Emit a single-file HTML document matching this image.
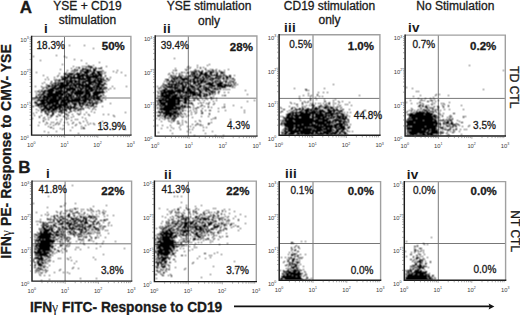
<!DOCTYPE html>
<html><head><meta charset="utf-8"><style>
html,body{margin:0;padding:0;background:#fff}
body{width:520px;height:315px;overflow:hidden;position:relative}
svg{position:absolute;left:0;top:0;font-family:"Liberation Sans",sans-serif}
.tk{font-size:5.8px;fill:#3a3a3a}
text{fill:#1a1a1a;stroke:#1a1a1a;stroke-width:0.3px}
.tk{stroke:none}
.nb{stroke:none}
</style></head><body>
<svg width="520" height="315" viewBox="0 0 520 315">
<defs><filter id="bl" x="-5%" y="-5%" width="110%" height="110%"><feConvolveMatrix order="3" kernelMatrix="1 2 1 2 4 2 1 2 1"/></filter></defs>
<rect width="520" height="315" fill="#fff"/>
<path d="M64.5 36.4V135.1M31.6 98.0H130.9" stroke="#777" stroke-width="1" fill="none"/>
<g filter="url(#bl)"><path fill="#000" d="M69 45h1v1h-1zM84 45h1v1h-1zM107 47h1v1h-1zM93 48h1v1h-1zM56 55h1v1h-1zM33 56h1v1h-1zM64 56h1v1h-1zM66 57h1v1h-1zM74 59h1v1h-1zM40 60h1v1h-1zM81 60h1v1h-1zM99 62h1v1h-1zM86 63h1v1h-1zM62 64h1v1h-1zM88 65h1v1h-1zM93 65h1v1h-1zM73 66h1v1h-1zM82 66h1v1h-1zM84 66h1v1h-1zM86 66h1v1h-1zM88 66h4v1h-4zM106 66h1v1h-1zM76 67h1v1h-1zM78 67h2v1h-2zM86 67h1v1h-1zM88 67h1v1h-1zM90 67h3v1h-3zM95 67h1v1h-1zM101 67h1v1h-1zM71 68h1v1h-1zM79 68h1v1h-1zM82 68h2v1h-2zM85 68h1v1h-1zM90 68h1v1h-1zM93 68h1v1h-1zM95 68h2v1h-2zM98 68h4v1h-4zM60 69h1v1h-1zM74 69h2v1h-2zM77 69h1v1h-1zM82 69h7v1h-7zM90 69h1v1h-1zM93 69h3v1h-3zM67 70h1v1h-1zM72 70h1v1h-1zM74 70h1v1h-1zM76 70h2v1h-2zM80 70h3v1h-3zM86 70h5v1h-5zM93 70h3v1h-3zM102 70h1v1h-1zM117 70h1v1h-1zM71 71h1v1h-1zM73 71h1v1h-1zM75 71h1v1h-1zM80 71h1v1h-1zM82 71h7v1h-7zM90 71h2v1h-2zM93 71h2v1h-2zM96 71h6v1h-6zM103 71h1v1h-1zM113 71h1v1h-1zM36 72h1v1h-1zM66 72h1v1h-1zM74 72h1v1h-1zM77 72h1v1h-1zM80 72h2v1h-2zM84 72h6v1h-6zM92 72h3v1h-3zM97 72h3v1h-3zM101 72h1v1h-1zM105 72h1v1h-1zM116 72h1v1h-1zM121 72h1v1h-1zM59 73h1v1h-1zM64 73h2v1h-2zM68 73h6v1h-6zM76 73h5v1h-5zM82 73h1v1h-1zM84 73h4v1h-4zM91 73h5v1h-5zM97 73h4v1h-4zM102 73h1v1h-1zM104 73h1v1h-1zM64 74h4v1h-4zM69 74h4v1h-4zM74 74h6v1h-6zM81 74h4v1h-4zM86 74h2v1h-2zM89 74h5v1h-5zM95 74h2v1h-2zM98 74h4v1h-4zM43 75h1v1h-1zM58 75h1v1h-1zM67 75h3v1h-3zM71 75h1v1h-1zM73 75h2v1h-2zM77 75h12v1h-12zM90 75h1v1h-1zM92 75h10v1h-10zM105 75h1v1h-1zM125 75h1v1h-1zM57 76h1v1h-1zM61 76h1v1h-1zM63 76h3v1h-3zM67 76h5v1h-5zM73 76h2v1h-2zM77 76h7v1h-7zM85 76h14v1h-14zM100 76h2v1h-2zM105 76h1v1h-1zM47 77h1v1h-1zM54 77h1v1h-1zM61 77h2v1h-2zM64 77h5v1h-5zM70 77h11v1h-11zM82 77h2v1h-2zM86 77h12v1h-12zM99 77h1v1h-1zM101 77h1v1h-1zM103 77h1v1h-1zM110 77h1v1h-1zM62 78h6v1h-6zM69 78h22v1h-22zM93 78h1v1h-1zM95 78h7v1h-7zM103 78h1v1h-1zM106 78h2v1h-2zM45 79h1v1h-1zM48 79h1v1h-1zM54 79h1v1h-1zM56 79h1v1h-1zM59 79h1v1h-1zM61 79h5v1h-5zM67 79h1v1h-1zM70 79h2v1h-2zM74 79h1v1h-1zM78 79h8v1h-8zM87 79h6v1h-6zM94 79h2v1h-2zM97 79h2v1h-2zM100 79h4v1h-4zM107 79h1v1h-1zM109 79h1v1h-1zM55 80h1v1h-1zM57 80h4v1h-4zM62 80h1v1h-1zM64 80h13v1h-13zM78 80h2v1h-2zM81 80h1v1h-1zM83 80h1v1h-1zM85 80h6v1h-6zM93 80h9v1h-9zM103 80h3v1h-3zM108 80h1v1h-1zM51 81h1v1h-1zM55 81h1v1h-1zM59 81h1v1h-1zM64 81h1v1h-1zM66 81h2v1h-2zM69 81h4v1h-4zM74 81h7v1h-7zM82 81h14v1h-14zM97 81h6v1h-6zM106 81h1v1h-1zM44 82h1v1h-1zM51 82h1v1h-1zM55 82h1v1h-1zM57 82h2v1h-2zM60 82h13v1h-13zM74 82h3v1h-3zM78 82h2v1h-2zM81 82h5v1h-5zM88 82h9v1h-9zM98 82h5v1h-5zM104 82h1v1h-1zM42 83h1v1h-1zM50 83h1v1h-1zM53 83h4v1h-4zM58 83h6v1h-6zM66 83h4v1h-4zM71 83h4v1h-4zM76 83h5v1h-5zM82 83h2v1h-2zM85 83h2v1h-2zM88 83h4v1h-4zM93 83h1v1h-1zM95 83h6v1h-6zM104 83h2v1h-2zM46 84h1v1h-1zM51 84h2v1h-2zM55 84h1v1h-1zM57 84h2v1h-2zM60 84h9v1h-9zM70 84h2v1h-2zM73 84h11v1h-11zM85 84h9v1h-9zM95 84h1v1h-1zM97 84h8v1h-8zM106 84h1v1h-1zM47 85h3v1h-3zM52 85h25v1h-25zM78 85h12v1h-12zM92 85h1v1h-1zM94 85h6v1h-6zM101 85h3v1h-3zM35 86h1v1h-1zM41 86h1v1h-1zM46 86h1v1h-1zM48 86h5v1h-5zM54 86h3v1h-3zM59 86h9v1h-9zM69 86h2v1h-2zM72 86h1v1h-1zM74 86h3v1h-3zM78 86h2v1h-2zM81 86h10v1h-10zM93 86h2v1h-2zM96 86h4v1h-4zM101 86h1v1h-1zM103 86h1v1h-1zM112 86h1v1h-1zM126 86h1v1h-1zM42 87h1v1h-1zM44 87h1v1h-1zM46 87h1v1h-1zM48 87h1v1h-1zM52 87h4v1h-4zM57 87h9v1h-9zM67 87h1v1h-1zM69 87h5v1h-5zM75 87h6v1h-6zM82 87h2v1h-2zM85 87h18v1h-18zM104 87h3v1h-3zM43 88h1v1h-1zM46 88h2v1h-2zM50 88h13v1h-13zM64 88h12v1h-12zM77 88h1v1h-1zM79 88h8v1h-8zM88 88h5v1h-5zM94 88h1v1h-1zM96 88h2v1h-2zM99 88h3v1h-3zM103 88h2v1h-2zM106 88h1v1h-1zM110 88h1v1h-1zM114 88h1v1h-1zM42 89h1v1h-1zM48 89h6v1h-6zM55 89h4v1h-4zM60 89h2v1h-2zM63 89h2v1h-2zM66 89h10v1h-10zM77 89h2v1h-2zM80 89h3v1h-3zM85 89h19v1h-19zM105 89h1v1h-1zM108 89h1v1h-1zM39 90h1v1h-1zM41 90h1v1h-1zM44 90h11v1h-11zM56 90h1v1h-1zM58 90h5v1h-5zM64 90h1v1h-1zM66 90h5v1h-5zM72 90h4v1h-4zM77 90h5v1h-5zM83 90h6v1h-6zM90 90h4v1h-4zM95 90h2v1h-2zM99 90h1v1h-1zM102 90h1v1h-1zM35 91h1v1h-1zM37 91h2v1h-2zM41 91h5v1h-5zM47 91h7v1h-7zM55 91h13v1h-13zM69 91h1v1h-1zM71 91h3v1h-3zM75 91h9v1h-9zM85 91h8v1h-8zM94 91h10v1h-10zM106 91h1v1h-1zM39 92h2v1h-2zM43 92h2v1h-2zM46 92h1v1h-1zM48 92h5v1h-5zM55 92h7v1h-7zM63 92h5v1h-5zM70 92h20v1h-20zM93 92h12v1h-12zM36 93h1v1h-1zM42 93h4v1h-4zM47 93h19v1h-19zM67 93h3v1h-3zM71 93h2v1h-2zM74 93h10v1h-10zM85 93h6v1h-6zM92 93h9v1h-9zM102 93h1v1h-1zM38 94h6v1h-6zM46 94h18v1h-18zM65 94h8v1h-8zM74 94h9v1h-9zM84 94h7v1h-7zM93 94h6v1h-6zM103 94h1v1h-1zM36 95h1v1h-1zM38 95h1v1h-1zM41 95h1v1h-1zM43 95h3v1h-3zM47 95h12v1h-12zM60 95h4v1h-4zM65 95h2v1h-2zM68 95h4v1h-4zM73 95h1v1h-1zM76 95h2v1h-2zM79 95h2v1h-2zM83 95h4v1h-4zM88 95h3v1h-3zM92 95h6v1h-6zM100 95h2v1h-2zM103 95h1v1h-1zM36 96h1v1h-1zM39 96h3v1h-3zM43 96h19v1h-19zM64 96h11v1h-11zM76 96h19v1h-19zM96 96h6v1h-6zM105 96h1v1h-1zM35 97h3v1h-3zM39 97h2v1h-2zM42 97h9v1h-9zM52 97h5v1h-5zM58 97h11v1h-11zM70 97h2v1h-2zM73 97h1v1h-1zM76 97h1v1h-1zM78 97h2v1h-2zM81 97h6v1h-6zM88 97h2v1h-2zM91 97h1v1h-1zM93 97h7v1h-7zM103 97h1v1h-1zM32 98h1v1h-1zM34 98h1v1h-1zM38 98h1v1h-1zM40 98h1v1h-1zM43 98h2v1h-2zM46 98h3v1h-3zM50 98h7v1h-7zM58 98h4v1h-4zM63 98h2v1h-2zM66 98h3v1h-3zM70 98h3v1h-3zM74 98h7v1h-7zM82 98h1v1h-1zM84 98h5v1h-5zM90 98h5v1h-5zM96 98h4v1h-4zM32 99h1v1h-1zM34 99h1v1h-1zM36 99h1v1h-1zM38 99h2v1h-2zM41 99h29v1h-29zM71 99h10v1h-10zM82 99h9v1h-9zM93 99h8v1h-8zM102 99h1v1h-1zM105 99h1v1h-1zM37 100h11v1h-11zM49 100h11v1h-11zM61 100h26v1h-26zM88 100h5v1h-5zM94 100h1v1h-1zM98 100h1v1h-1zM100 100h2v1h-2zM35 101h1v1h-1zM37 101h1v1h-1zM40 101h5v1h-5zM46 101h13v1h-13zM60 101h6v1h-6zM67 101h13v1h-13zM81 101h1v1h-1zM83 101h4v1h-4zM89 101h1v1h-1zM92 101h1v1h-1zM95 101h3v1h-3zM101 101h2v1h-2zM34 102h3v1h-3zM41 102h18v1h-18zM60 102h10v1h-10zM71 102h2v1h-2zM74 102h1v1h-1zM76 102h1v1h-1zM78 102h3v1h-3zM82 102h4v1h-4zM87 102h6v1h-6zM94 102h1v1h-1zM96 102h1v1h-1zM98 102h1v1h-1zM100 102h1v1h-1zM35 103h3v1h-3zM39 103h7v1h-7zM47 103h7v1h-7zM55 103h4v1h-4zM60 103h2v1h-2zM63 103h5v1h-5zM69 103h1v1h-1zM72 103h5v1h-5zM78 103h6v1h-6zM85 103h1v1h-1zM87 103h1v1h-1zM89 103h2v1h-2zM92 103h6v1h-6zM110 103h1v1h-1zM37 104h8v1h-8zM46 104h5v1h-5zM52 104h16v1h-16zM69 104h1v1h-1zM71 104h1v1h-1zM73 104h4v1h-4zM79 104h2v1h-2zM82 104h3v1h-3zM86 104h2v1h-2zM90 104h1v1h-1zM92 104h2v1h-2zM96 104h1v1h-1zM35 105h5v1h-5zM41 105h1v1h-1zM43 105h5v1h-5zM49 105h1v1h-1zM51 105h6v1h-6zM58 105h10v1h-10zM70 105h1v1h-1zM74 105h2v1h-2zM77 105h1v1h-1zM79 105h2v1h-2zM82 105h1v1h-1zM85 105h5v1h-5zM91 105h3v1h-3zM32 106h2v1h-2zM38 106h1v1h-1zM40 106h7v1h-7zM48 106h14v1h-14zM63 106h3v1h-3zM67 106h5v1h-5zM73 106h3v1h-3zM80 106h3v1h-3zM90 106h2v1h-2zM93 106h1v1h-1zM95 106h2v1h-2zM102 106h1v1h-1zM39 107h1v1h-1zM41 107h1v1h-1zM44 107h4v1h-4zM49 107h4v1h-4zM54 107h9v1h-9zM64 107h5v1h-5zM70 107h5v1h-5zM76 107h1v1h-1zM78 107h1v1h-1zM81 107h1v1h-1zM85 107h1v1h-1zM87 107h2v1h-2zM94 107h1v1h-1zM40 108h1v1h-1zM43 108h15v1h-15zM59 108h2v1h-2zM62 108h2v1h-2zM65 108h1v1h-1zM67 108h5v1h-5zM73 108h5v1h-5zM80 108h1v1h-1zM82 108h2v1h-2zM89 108h1v1h-1zM93 108h1v1h-1zM36 109h1v1h-1zM41 109h4v1h-4zM46 109h5v1h-5zM52 109h5v1h-5zM58 109h3v1h-3zM62 109h1v1h-1zM64 109h3v1h-3zM69 109h2v1h-2zM75 109h1v1h-1zM78 109h4v1h-4zM83 109h1v1h-1zM92 109h1v1h-1zM95 109h1v1h-1zM38 110h1v1h-1zM41 110h3v1h-3zM45 110h1v1h-1zM47 110h3v1h-3zM51 110h4v1h-4zM56 110h1v1h-1zM60 110h7v1h-7zM70 110h1v1h-1zM73 110h2v1h-2zM77 110h2v1h-2zM41 111h1v1h-1zM44 111h3v1h-3zM48 111h1v1h-1zM50 111h3v1h-3zM54 111h1v1h-1zM56 111h1v1h-1zM58 111h4v1h-4zM66 111h1v1h-1zM70 111h2v1h-2zM75 111h1v1h-1zM80 111h1v1h-1zM91 111h1v1h-1zM36 112h1v1h-1zM41 112h1v1h-1zM45 112h1v1h-1zM48 112h2v1h-2zM52 112h2v1h-2zM55 112h1v1h-1zM59 112h1v1h-1zM61 112h4v1h-4zM68 112h2v1h-2zM86 112h1v1h-1zM94 112h1v1h-1zM125 112h1v1h-1zM33 113h1v1h-1zM45 113h3v1h-3zM52 113h2v1h-2zM61 113h1v1h-1zM65 113h1v1h-1zM77 113h1v1h-1zM80 113h1v1h-1zM47 114h2v1h-2zM52 114h2v1h-2zM58 114h1v1h-1zM65 114h3v1h-3zM72 114h1v1h-1zM78 114h2v1h-2zM84 114h1v1h-1zM88 114h1v1h-1zM103 114h1v1h-1zM108 114h1v1h-1zM34 115h1v1h-1zM41 115h1v1h-1zM47 115h1v1h-1zM50 115h3v1h-3zM59 115h2v1h-2zM68 115h1v1h-1zM89 115h1v1h-1zM113 115h1v1h-1zM39 116h1v1h-1zM51 116h1v1h-1zM56 116h2v1h-2zM63 116h2v1h-2zM67 116h1v1h-1zM73 116h1v1h-1zM114 116h1v1h-1zM39 117h1v1h-1zM44 117h1v1h-1zM48 117h1v1h-1zM50 117h1v1h-1zM65 117h1v1h-1zM71 117h1v1h-1zM82 117h1v1h-1zM32 118h1v1h-1zM43 118h1v1h-1zM66 118h1v1h-1zM68 118h1v1h-1zM85 118h1v1h-1zM45 119h1v1h-1zM48 119h1v1h-1zM56 119h1v1h-1zM61 119h1v1h-1zM66 119h1v1h-1zM75 119h1v1h-1zM77 119h1v1h-1zM43 120h1v1h-1zM71 120h1v1h-1zM86 120h1v1h-1zM43 121h1v1h-1zM60 121h1v1h-1zM83 121h1v1h-1zM102 121h1v1h-1zM39 122h1v1h-1zM46 122h1v1h-1zM51 122h1v1h-1zM53 122h1v1h-1zM57 122h1v1h-1zM64 122h1v1h-1zM67 122h1v1h-1zM73 122h1v1h-1zM79 122h1v1h-1zM87 122h1v1h-1zM47 123h1v1h-1zM56 123h1v1h-1zM59 123h1v1h-1zM72 123h1v1h-1zM80 123h1v1h-1zM90 123h1v1h-1zM93 123h1v1h-1zM45 124h1v1h-1zM50 124h1v1h-1zM55 124h1v1h-1zM58 124h1v1h-1zM68 124h1v1h-1zM76 124h1v1h-1zM88 124h1v1h-1zM94 124h1v1h-1zM38 125h1v1h-1zM53 125h1v1h-1zM63 125h1v1h-1zM75 125h1v1h-1zM85 125h1v1h-1zM99 125h1v1h-1zM103 125h1v1h-1zM48 126h1v1h-1zM81 126h1v1h-1zM50 127h2v1h-2zM72 127h1v1h-1zM83 127h1v1h-1zM53 128h1v1h-1zM60 128h1v1h-1zM63 128h1v1h-1zM81 128h1v1h-1zM83 128h2v1h-2zM62 129h1v1h-1zM112 129h1v1h-1zM125 129h1v1h-1zM70 130h1v1h-1zM44 131h1v1h-1zM56 131h1v1h-1zM48 132h1v1h-1zM78 133h1v1h-1z"/></g>
<path d="M31.6 36.4H130.9V135.1" stroke="#a0a0a0" stroke-width="1.4" fill="none"/>
<path d="M31.6 35.699999999999996V135.1H131.6" stroke="#1a1a1a" stroke-width="1.45" fill="none"/>
<path d="M41.6 135.6v1.6M31.1 125.2h-1.6M47.4 135.6v1.6M31.1 119.4h-1.6M51.5 135.6v1.6M31.1 115.3h-1.6M54.7 135.6v1.6M31.1 112.1h-1.6M57.4 135.6v1.6M31.1 109.5h-1.6M59.6 135.6v1.6M31.1 107.3h-1.6M61.5 135.6v1.6M31.1 105.4h-1.6M63.2 135.6v1.6M31.1 103.7h-1.6M64.7 135.6v2.2M31.1 102.2h-2.2M74.7 135.6v1.6M31.1 92.3h-1.6M80.5 135.6v1.6M31.1 86.5h-1.6M84.6 135.6v1.6M31.1 82.4h-1.6M87.8 135.6v1.6M31.1 79.2h-1.6M90.5 135.6v1.6M31.1 76.6h-1.6M92.7 135.6v1.6M31.1 74.4h-1.6M94.6 135.6v1.6M31.1 72.5h-1.6M96.3 135.6v1.6M31.1 70.8h-1.6M97.8 135.6v2.2M31.1 69.3h-2.2M107.8 135.6v1.6M31.1 59.4h-1.6M113.6 135.6v1.6M31.1 53.6h-1.6M117.7 135.6v1.6M31.1 49.5h-1.6M120.9 135.6v1.6M31.1 46.3h-1.6M123.6 135.6v1.6M31.1 43.7h-1.6M125.8 135.6v1.6M31.1 41.5h-1.6M127.7 135.6v1.6M31.1 39.6h-1.6M129.4 135.6v1.6M31.1 37.9h-1.6" stroke="#555" stroke-width="0.5" fill="none"/>
<text x="20.3" y="41.699999999999996" class="tk">10<tspan dy="-2.6" font-size="3.6">3</tspan></text>
<text x="20.3" y="74.6" class="tk">10<tspan dy="-2.6" font-size="3.6">2</tspan></text>
<text x="20.3" y="107.49999999999999" class="tk">10<tspan dy="-2.6" font-size="3.6">1</tspan></text>
<text x="20.3" y="140.4" class="tk">10<tspan dy="-2.6" font-size="3.6">0</tspan></text>
<text x="27.1" y="146.9" class="tk">10<tspan dy="-2.6" font-size="3.6">0</tspan></text>
<text x="60.2" y="146.9" class="tk">10<tspan dy="-2.6" font-size="3.6">1</tspan></text>
<text x="93.30000000000001" y="146.9" class="tk">10<tspan dy="-2.6" font-size="3.6">2</tspan></text>
<text x="126.4" y="146.9" class="tk">10<tspan dy="-2.6" font-size="3.6">3</tspan></text>
<path d="M188.3 36.0V136.1M155.2 98.2H256.9" stroke="#777" stroke-width="1" fill="none"/>
<g filter="url(#bl)"><path fill="#000" d="M174 58h1v1h-1zM209 64h1v1h-1zM197 65h1v1h-1zM207 65h1v1h-1zM188 66h1v1h-1zM187 67h1v1h-1zM190 67h1v1h-1zM197 67h1v1h-1zM200 67h1v1h-1zM203 67h1v1h-1zM175 68h1v1h-1zM189 68h1v1h-1zM200 68h1v1h-1zM205 68h1v1h-1zM185 69h1v1h-1zM187 69h1v1h-1zM195 69h1v1h-1zM205 69h1v1h-1zM210 69h1v1h-1zM212 69h1v1h-1zM216 69h1v1h-1zM228 69h1v1h-1zM173 70h1v1h-1zM175 70h2v1h-2zM186 70h1v1h-1zM194 70h1v1h-1zM196 70h1v1h-1zM198 70h1v1h-1zM202 70h1v1h-1zM206 70h1v1h-1zM208 70h1v1h-1zM212 70h2v1h-2zM215 70h1v1h-1zM219 70h1v1h-1zM224 70h1v1h-1zM190 71h1v1h-1zM192 71h1v1h-1zM194 71h3v1h-3zM198 71h2v1h-2zM201 71h2v1h-2zM208 71h4v1h-4zM213 71h1v1h-1zM216 71h1v1h-1zM219 71h1v1h-1zM221 71h1v1h-1zM172 72h1v1h-1zM181 72h2v1h-2zM184 72h1v1h-1zM187 72h2v1h-2zM191 72h4v1h-4zM196 72h1v1h-1zM199 72h4v1h-4zM205 72h3v1h-3zM210 72h4v1h-4zM215 72h1v1h-1zM217 72h1v1h-1zM220 72h5v1h-5zM169 73h1v1h-1zM173 73h1v1h-1zM176 73h1v1h-1zM179 73h1v1h-1zM186 73h1v1h-1zM188 73h1v1h-1zM191 73h1v1h-1zM193 73h3v1h-3zM197 73h1v1h-1zM200 73h3v1h-3zM204 73h3v1h-3zM209 73h3v1h-3zM216 73h2v1h-2zM221 73h2v1h-2zM168 74h1v1h-1zM179 74h1v1h-1zM181 74h1v1h-1zM191 74h4v1h-4zM196 74h2v1h-2zM199 74h9v1h-9zM210 74h2v1h-2zM214 74h1v1h-1zM216 74h2v1h-2zM220 74h1v1h-1zM223 74h2v1h-2zM170 75h2v1h-2zM173 75h1v1h-1zM175 75h1v1h-1zM179 75h1v1h-1zM182 75h1v1h-1zM186 75h1v1h-1zM189 75h2v1h-2zM192 75h1v1h-1zM194 75h2v1h-2zM197 75h1v1h-1zM199 75h2v1h-2zM204 75h6v1h-6zM211 75h7v1h-7zM219 75h1v1h-1zM221 75h1v1h-1zM223 75h1v1h-1zM225 75h1v1h-1zM229 75h2v1h-2zM234 75h1v1h-1zM171 76h1v1h-1zM173 76h1v1h-1zM175 76h1v1h-1zM178 76h4v1h-4zM183 76h1v1h-1zM185 76h1v1h-1zM187 76h4v1h-4zM192 76h5v1h-5zM198 76h3v1h-3zM202 76h2v1h-2zM205 76h2v1h-2zM208 76h3v1h-3zM216 76h6v1h-6zM223 76h1v1h-1zM225 76h3v1h-3zM229 76h2v1h-2zM169 77h1v1h-1zM171 77h2v1h-2zM174 77h5v1h-5zM180 77h2v1h-2zM185 77h1v1h-1zM187 77h1v1h-1zM191 77h1v1h-1zM194 77h5v1h-5zM202 77h2v1h-2zM205 77h4v1h-4zM210 77h1v1h-1zM212 77h1v1h-1zM215 77h2v1h-2zM218 77h1v1h-1zM220 77h1v1h-1zM223 77h1v1h-1zM226 77h3v1h-3zM230 77h1v1h-1zM172 78h3v1h-3zM176 78h2v1h-2zM179 78h11v1h-11zM193 78h9v1h-9zM203 78h2v1h-2zM206 78h1v1h-1zM208 78h1v1h-1zM210 78h11v1h-11zM222 78h3v1h-3zM226 78h2v1h-2zM230 78h1v1h-1zM232 78h2v1h-2zM165 79h4v1h-4zM171 79h1v1h-1zM173 79h4v1h-4zM178 79h1v1h-1zM181 79h7v1h-7zM190 79h5v1h-5zM197 79h1v1h-1zM200 79h1v1h-1zM202 79h3v1h-3zM206 79h2v1h-2zM209 79h2v1h-2zM212 79h2v1h-2zM218 79h1v1h-1zM223 79h1v1h-1zM226 79h1v1h-1zM228 79h1v1h-1zM232 79h1v1h-1zM234 79h1v1h-1zM167 80h2v1h-2zM171 80h2v1h-2zM174 80h1v1h-1zM177 80h1v1h-1zM179 80h2v1h-2zM182 80h3v1h-3zM187 80h4v1h-4zM193 80h2v1h-2zM196 80h8v1h-8zM205 80h1v1h-1zM208 80h1v1h-1zM210 80h3v1h-3zM215 80h3v1h-3zM219 80h2v1h-2zM224 80h1v1h-1zM226 80h1v1h-1zM230 80h1v1h-1zM234 80h1v1h-1zM164 81h1v1h-1zM166 81h1v1h-1zM169 81h8v1h-8zM178 81h2v1h-2zM181 81h1v1h-1zM183 81h1v1h-1zM185 81h1v1h-1zM187 81h1v1h-1zM189 81h7v1h-7zM197 81h2v1h-2zM200 81h8v1h-8zM212 81h1v1h-1zM214 81h2v1h-2zM217 81h2v1h-2zM220 81h1v1h-1zM223 81h1v1h-1zM225 81h2v1h-2zM229 81h1v1h-1zM231 81h3v1h-3zM167 82h1v1h-1zM169 82h1v1h-1zM172 82h2v1h-2zM176 82h1v1h-1zM178 82h2v1h-2zM181 82h8v1h-8zM190 82h1v1h-1zM193 82h6v1h-6zM200 82h3v1h-3zM204 82h2v1h-2zM208 82h3v1h-3zM212 82h2v1h-2zM215 82h2v1h-2zM219 82h4v1h-4zM225 82h2v1h-2zM228 82h1v1h-1zM230 82h1v1h-1zM233 82h1v1h-1zM235 82h1v1h-1zM163 83h1v1h-1zM168 83h2v1h-2zM171 83h1v1h-1zM173 83h1v1h-1zM175 83h8v1h-8zM185 83h1v1h-1zM187 83h2v1h-2zM190 83h1v1h-1zM193 83h3v1h-3zM198 83h4v1h-4zM203 83h1v1h-1zM206 83h8v1h-8zM215 83h1v1h-1zM217 83h6v1h-6zM228 83h1v1h-1zM230 83h1v1h-1zM233 83h1v1h-1zM235 83h1v1h-1zM163 84h1v1h-1zM165 84h1v1h-1zM167 84h10v1h-10zM178 84h1v1h-1zM180 84h4v1h-4zM185 84h2v1h-2zM188 84h3v1h-3zM193 84h1v1h-1zM195 84h1v1h-1zM197 84h3v1h-3zM205 84h8v1h-8zM216 84h6v1h-6zM223 84h4v1h-4zM228 84h1v1h-1zM231 84h1v1h-1zM234 84h1v1h-1zM237 84h1v1h-1zM162 85h1v1h-1zM164 85h3v1h-3zM169 85h1v1h-1zM171 85h2v1h-2zM174 85h6v1h-6zM182 85h2v1h-2zM185 85h2v1h-2zM190 85h3v1h-3zM195 85h3v1h-3zM199 85h3v1h-3zM203 85h2v1h-2zM209 85h7v1h-7zM217 85h6v1h-6zM224 85h8v1h-8zM233 85h1v1h-1zM235 85h1v1h-1zM157 86h1v1h-1zM161 86h1v1h-1zM163 86h1v1h-1zM166 86h7v1h-7zM174 86h2v1h-2zM177 86h1v1h-1zM179 86h1v1h-1zM181 86h5v1h-5zM188 86h7v1h-7zM197 86h1v1h-1zM199 86h3v1h-3zM203 86h1v1h-1zM205 86h1v1h-1zM207 86h1v1h-1zM209 86h1v1h-1zM211 86h4v1h-4zM217 86h9v1h-9zM227 86h1v1h-1zM229 86h2v1h-2zM232 86h1v1h-1zM160 87h1v1h-1zM163 87h3v1h-3zM167 87h12v1h-12zM180 87h1v1h-1zM182 87h7v1h-7zM191 87h4v1h-4zM196 87h1v1h-1zM198 87h3v1h-3zM203 87h4v1h-4zM208 87h4v1h-4zM215 87h1v1h-1zM217 87h1v1h-1zM219 87h1v1h-1zM221 87h5v1h-5zM232 87h1v1h-1zM234 87h1v1h-1zM158 88h2v1h-2zM161 88h1v1h-1zM165 88h2v1h-2zM170 88h1v1h-1zM172 88h1v1h-1zM174 88h4v1h-4zM179 88h1v1h-1zM181 88h4v1h-4zM187 88h4v1h-4zM192 88h1v1h-1zM194 88h2v1h-2zM197 88h2v1h-2zM201 88h1v1h-1zM203 88h1v1h-1zM205 88h4v1h-4zM211 88h5v1h-5zM217 88h1v1h-1zM219 88h2v1h-2zM163 89h5v1h-5zM169 89h1v1h-1zM171 89h2v1h-2zM174 89h2v1h-2zM177 89h4v1h-4zM182 89h3v1h-3zM186 89h5v1h-5zM192 89h3v1h-3zM196 89h4v1h-4zM201 89h1v1h-1zM203 89h7v1h-7zM214 89h5v1h-5zM220 89h1v1h-1zM223 89h1v1h-1zM225 89h1v1h-1zM227 89h1v1h-1zM229 89h1v1h-1zM159 90h1v1h-1zM161 90h5v1h-5zM167 90h7v1h-7zM175 90h10v1h-10zM187 90h5v1h-5zM194 90h2v1h-2zM198 90h3v1h-3zM202 90h1v1h-1zM205 90h2v1h-2zM208 90h3v1h-3zM212 90h2v1h-2zM245 90h1v1h-1zM157 91h1v1h-1zM160 91h2v1h-2zM163 91h21v1h-21zM185 91h10v1h-10zM199 91h3v1h-3zM203 91h1v1h-1zM205 91h3v1h-3zM210 91h3v1h-3zM214 91h2v1h-2zM218 91h2v1h-2zM158 92h1v1h-1zM161 92h15v1h-15zM177 92h4v1h-4zM182 92h6v1h-6zM189 92h9v1h-9zM199 92h3v1h-3zM208 92h2v1h-2zM211 92h4v1h-4zM218 92h1v1h-1zM224 92h1v1h-1zM228 92h1v1h-1zM158 93h1v1h-1zM160 93h7v1h-7zM168 93h7v1h-7zM177 93h1v1h-1zM179 93h2v1h-2zM183 93h1v1h-1zM185 93h11v1h-11zM197 93h1v1h-1zM199 93h2v1h-2zM202 93h3v1h-3zM206 93h1v1h-1zM209 93h2v1h-2zM212 93h1v1h-1zM215 93h1v1h-1zM218 93h1v1h-1zM161 94h3v1h-3zM165 94h8v1h-8zM174 94h4v1h-4zM179 94h1v1h-1zM181 94h2v1h-2zM185 94h1v1h-1zM187 94h1v1h-1zM190 94h1v1h-1zM192 94h9v1h-9zM204 94h4v1h-4zM209 94h2v1h-2zM212 94h1v1h-1zM214 94h1v1h-1zM247 94h1v1h-1zM157 95h1v1h-1zM160 95h11v1h-11zM172 95h6v1h-6zM179 95h3v1h-3zM183 95h5v1h-5zM189 95h2v1h-2zM192 95h4v1h-4zM197 95h5v1h-5zM203 95h2v1h-2zM206 95h2v1h-2zM209 95h1v1h-1zM222 95h1v1h-1zM224 95h2v1h-2zM158 96h2v1h-2zM161 96h16v1h-16zM178 96h1v1h-1zM180 96h4v1h-4zM185 96h1v1h-1zM187 96h4v1h-4zM192 96h1v1h-1zM196 96h1v1h-1zM199 96h2v1h-2zM203 96h4v1h-4zM213 96h1v1h-1zM157 97h1v1h-1zM160 97h2v1h-2zM163 97h7v1h-7zM171 97h12v1h-12zM184 97h6v1h-6zM192 97h1v1h-1zM194 97h1v1h-1zM196 97h1v1h-1zM200 97h2v1h-2zM210 97h2v1h-2zM162 98h2v1h-2zM165 98h15v1h-15zM181 98h2v1h-2zM184 98h3v1h-3zM188 98h1v1h-1zM193 98h1v1h-1zM195 98h1v1h-1zM197 98h1v1h-1zM205 98h2v1h-2zM211 98h1v1h-1zM213 98h1v1h-1zM216 98h1v1h-1zM158 99h9v1h-9zM168 99h12v1h-12zM183 99h6v1h-6zM194 99h1v1h-1zM197 99h2v1h-2zM202 99h1v1h-1zM207 99h1v1h-1zM211 99h1v1h-1zM156 100h1v1h-1zM158 100h18v1h-18zM177 100h6v1h-6zM184 100h3v1h-3zM188 100h2v1h-2zM191 100h1v1h-1zM193 100h2v1h-2zM199 100h1v1h-1zM204 100h1v1h-1zM216 100h1v1h-1zM254 100h1v1h-1zM157 101h1v1h-1zM159 101h3v1h-3zM163 101h1v1h-1zM165 101h16v1h-16zM182 101h1v1h-1zM184 101h3v1h-3zM189 101h1v1h-1zM213 101h1v1h-1zM247 101h1v1h-1zM157 102h1v1h-1zM159 102h17v1h-17zM177 102h3v1h-3zM183 102h4v1h-4zM188 102h1v1h-1zM191 102h1v1h-1zM200 102h1v1h-1zM203 102h1v1h-1zM209 102h1v1h-1zM158 103h1v1h-1zM160 103h6v1h-6zM167 103h13v1h-13zM181 103h1v1h-1zM184 103h3v1h-3zM188 103h5v1h-5zM198 103h1v1h-1zM201 103h1v1h-1zM206 103h1v1h-1zM208 103h1v1h-1zM214 103h1v1h-1zM157 104h2v1h-2zM160 104h6v1h-6zM167 104h13v1h-13zM182 104h1v1h-1zM187 104h1v1h-1zM192 104h1v1h-1zM208 104h1v1h-1zM213 104h1v1h-1zM224 104h1v1h-1zM156 105h1v1h-1zM159 105h2v1h-2zM162 105h14v1h-14zM177 105h1v1h-1zM179 105h1v1h-1zM181 105h2v1h-2zM184 105h2v1h-2zM193 105h1v1h-1zM201 105h2v1h-2zM233 105h1v1h-1zM160 106h3v1h-3zM164 106h13v1h-13zM178 106h1v1h-1zM180 106h6v1h-6zM187 106h3v1h-3zM200 106h1v1h-1zM204 106h1v1h-1zM208 106h1v1h-1zM224 106h1v1h-1zM157 107h1v1h-1zM159 107h1v1h-1zM161 107h1v1h-1zM163 107h11v1h-11zM175 107h6v1h-6zM182 107h1v1h-1zM184 107h2v1h-2zM187 107h1v1h-1zM189 107h2v1h-2zM193 107h1v1h-1zM197 107h2v1h-2zM208 107h1v1h-1zM211 107h1v1h-1zM222 107h1v1h-1zM224 107h1v1h-1zM241 107h1v1h-1zM157 108h1v1h-1zM160 108h21v1h-21zM182 108h2v1h-2zM195 108h2v1h-2zM202 108h1v1h-1zM218 108h1v1h-1zM159 109h18v1h-18zM178 109h2v1h-2zM181 109h1v1h-1zM193 109h1v1h-1zM161 110h1v1h-1zM163 110h9v1h-9zM173 110h1v1h-1zM175 110h1v1h-1zM177 110h1v1h-1zM179 110h1v1h-1zM182 110h2v1h-2zM185 110h1v1h-1zM190 110h1v1h-1zM196 110h1v1h-1zM201 110h1v1h-1zM205 110h1v1h-1zM209 110h2v1h-2zM225 110h1v1h-1zM244 110h1v1h-1zM158 111h2v1h-2zM161 111h2v1h-2zM165 111h5v1h-5zM171 111h7v1h-7zM180 111h1v1h-1zM182 111h1v1h-1zM188 111h1v1h-1zM194 111h1v1h-1zM201 111h1v1h-1zM218 111h1v1h-1zM156 112h1v1h-1zM158 112h14v1h-14zM173 112h4v1h-4zM178 112h1v1h-1zM180 112h1v1h-1zM191 112h1v1h-1zM196 112h1v1h-1zM202 112h1v1h-1zM244 112h1v1h-1zM160 113h1v1h-1zM163 113h16v1h-16zM180 113h2v1h-2zM184 113h1v1h-1zM195 113h1v1h-1zM201 113h2v1h-2zM209 113h1v1h-1zM160 114h1v1h-1zM163 114h1v1h-1zM165 114h9v1h-9zM175 114h1v1h-1zM177 114h3v1h-3zM182 114h1v1h-1zM185 114h1v1h-1zM191 114h1v1h-1zM209 114h1v1h-1zM157 115h4v1h-4zM162 115h1v1h-1zM164 115h4v1h-4zM169 115h3v1h-3zM173 115h3v1h-3zM177 115h1v1h-1zM180 115h1v1h-1zM188 115h1v1h-1zM158 116h1v1h-1zM162 116h1v1h-1zM164 116h2v1h-2zM168 116h4v1h-4zM173 116h3v1h-3zM177 116h2v1h-2zM181 116h1v1h-1zM183 116h1v1h-1zM186 116h1v1h-1zM201 116h1v1h-1zM208 116h1v1h-1zM160 117h1v1h-1zM164 117h2v1h-2zM167 117h1v1h-1zM170 117h1v1h-1zM173 117h1v1h-1zM175 117h2v1h-2zM182 117h1v1h-1zM192 117h1v1h-1zM215 117h1v1h-1zM156 118h1v1h-1zM162 118h1v1h-1zM165 118h1v1h-1zM167 118h3v1h-3zM171 118h5v1h-5zM213 118h1v1h-1zM215 118h1v1h-1zM159 119h1v1h-1zM164 119h1v1h-1zM172 119h1v1h-1zM174 119h1v1h-1zM211 119h1v1h-1zM230 119h1v1h-1zM168 120h1v1h-1zM171 120h1v1h-1zM173 120h2v1h-2zM182 120h1v1h-1zM199 120h1v1h-1zM161 121h1v1h-1zM169 121h1v1h-1zM173 121h1v1h-1zM177 121h2v1h-2zM185 121h1v1h-1zM195 121h1v1h-1zM200 121h1v1h-1zM171 122h1v1h-1zM182 122h1v1h-1zM186 122h1v1h-1zM211 122h1v1h-1zM177 123h3v1h-3zM197 123h1v1h-1zM208 123h2v1h-2zM182 124h1v1h-1zM192 124h1v1h-1zM196 124h1v1h-1zM198 124h1v1h-1zM200 124h1v1h-1zM208 124h1v1h-1zM157 125h1v1h-1zM162 125h1v1h-1zM170 125h1v1h-1zM180 125h1v1h-1zM195 125h1v1h-1zM200 125h1v1h-1zM202 125h1v1h-1zM187 126h1v1h-1zM190 126h1v1h-1zM167 127h1v1h-1zM171 127h1v1h-1zM179 127h1v1h-1zM193 127h1v1h-1zM203 127h1v1h-1zM206 127h1v1h-1zM161 128h1v1h-1zM173 128h1v1h-1zM180 129h1v1h-1zM189 129h1v1h-1zM192 129h1v1h-1zM170 130h1v1h-1zM203 130h1v1h-1zM187 131h1v1h-1zM212 131h1v1h-1zM158 132h1v1h-1zM190 132h1v1h-1zM172 133h1v1h-1zM205 133h1v1h-1zM194 135h1v1h-1zM215 135h1v1h-1zM223 135h1v1h-1z"/></g>
<path d="M155.2 36.0H256.9V136.1" stroke="#a0a0a0" stroke-width="1.4" fill="none"/>
<path d="M155.2 35.3V136.1H257.59999999999997" stroke="#1a1a1a" stroke-width="1.45" fill="none"/>
<path d="M165.4 136.6v1.6M154.7 126.1h-1.6M171.4 136.6v1.6M154.7 120.2h-1.6M175.6 136.6v1.6M154.7 116.0h-1.6M178.9 136.6v1.6M154.7 112.8h-1.6M181.6 136.6v1.6M154.7 110.1h-1.6M183.8 136.6v1.6M154.7 107.9h-1.6M185.8 136.6v1.6M154.7 106.0h-1.6M187.5 136.6v1.6M154.7 104.3h-1.6M189.1 136.6v2.2M154.7 102.7h-2.2M199.3 136.6v1.6M154.7 92.7h-1.6M205.3 136.6v1.6M154.7 86.8h-1.6M209.5 136.6v1.6M154.7 82.6h-1.6M212.8 136.6v1.6M154.7 79.4h-1.6M215.5 136.6v1.6M154.7 76.8h-1.6M217.7 136.6v1.6M154.7 74.5h-1.6M219.7 136.6v1.6M154.7 72.6h-1.6M221.4 136.6v1.6M154.7 70.9h-1.6M223.0 136.6v2.2M154.7 69.4h-2.2M233.2 136.6v1.6M154.7 59.3h-1.6M239.2 136.6v1.6M154.7 53.4h-1.6M243.4 136.6v1.6M154.7 49.3h-1.6M246.7 136.6v1.6M154.7 46.0h-1.6M249.4 136.6v1.6M154.7 43.4h-1.6M251.6 136.6v1.6M154.7 41.2h-1.6M253.6 136.6v1.6M154.7 39.2h-1.6M255.3 136.6v1.6M154.7 37.5h-1.6" stroke="#555" stroke-width="0.5" fill="none"/>
<text x="143.89999999999998" y="41.3" class="tk">10<tspan dy="-2.6" font-size="3.6">3</tspan></text>
<text x="143.89999999999998" y="74.66666666666667" class="tk">10<tspan dy="-2.6" font-size="3.6">2</tspan></text>
<text x="143.89999999999998" y="108.03333333333333" class="tk">10<tspan dy="-2.6" font-size="3.6">1</tspan></text>
<text x="143.89999999999998" y="141.4" class="tk">10<tspan dy="-2.6" font-size="3.6">0</tspan></text>
<text x="150.7" y="147.9" class="tk">10<tspan dy="-2.6" font-size="3.6">0</tspan></text>
<text x="184.6" y="147.9" class="tk">10<tspan dy="-2.6" font-size="3.6">1</tspan></text>
<text x="218.5" y="147.9" class="tk">10<tspan dy="-2.6" font-size="3.6">2</tspan></text>
<text x="252.39999999999998" y="147.9" class="tk">10<tspan dy="-2.6" font-size="3.6">3</tspan></text>
<path d="M313.0 34.7V135.3M279.1 98.4H379.9" stroke="#777" stroke-width="1" fill="none"/>
<g filter="url(#bl)"><path fill="#000" d="M333 84h1v1h-1zM294 88h1v1h-1zM324 88h1v1h-1zM305 89h2v1h-2zM306 90h1v1h-1zM308 90h1v1h-1zM318 92h1v1h-1zM323 92h1v1h-1zM327 92h1v1h-1zM308 93h1v1h-1zM317 94h1v1h-1zM303 95h1v1h-1zM308 95h1v1h-1zM311 95h1v1h-1zM317 95h1v1h-1zM359 95h1v1h-1zM299 96h1v1h-1zM310 96h1v1h-1zM319 96h1v1h-1zM322 96h1v1h-1zM315 97h1v1h-1zM299 98h1v1h-1zM310 98h1v1h-1zM310 99h1v1h-1zM316 99h1v1h-1zM324 99h1v1h-1zM335 99h1v1h-1zM300 100h1v1h-1zM310 100h1v1h-1zM333 100h1v1h-1zM304 101h1v1h-1zM308 101h1v1h-1zM324 101h2v1h-2zM338 101h1v1h-1zM342 101h1v1h-1zM290 102h1v1h-1zM302 102h1v1h-1zM305 102h1v1h-1zM307 102h1v1h-1zM329 102h1v1h-1zM333 102h1v1h-1zM339 102h1v1h-1zM349 102h1v1h-1zM291 103h1v1h-1zM294 103h1v1h-1zM302 103h1v1h-1zM310 103h1v1h-1zM312 103h1v1h-1zM315 103h1v1h-1zM318 103h1v1h-1zM320 103h1v1h-1zM323 103h1v1h-1zM326 103h1v1h-1zM328 103h2v1h-2zM335 103h1v1h-1zM296 104h2v1h-2zM302 104h1v1h-1zM312 104h1v1h-1zM325 104h1v1h-1zM329 104h1v1h-1zM333 104h1v1h-1zM338 104h1v1h-1zM345 104h1v1h-1zM347 104h1v1h-1zM306 105h1v1h-1zM309 105h1v1h-1zM311 105h4v1h-4zM320 105h2v1h-2zM324 105h1v1h-1zM326 105h2v1h-2zM340 105h1v1h-1zM351 105h1v1h-1zM289 106h1v1h-1zM297 106h1v1h-1zM302 106h1v1h-1zM304 106h1v1h-1zM313 106h1v1h-1zM318 106h3v1h-3zM322 106h1v1h-1zM325 106h2v1h-2zM328 106h1v1h-1zM330 106h1v1h-1zM333 106h1v1h-1zM337 106h1v1h-1zM339 106h1v1h-1zM280 107h1v1h-1zM292 107h1v1h-1zM294 107h1v1h-1zM302 107h1v1h-1zM305 107h1v1h-1zM312 107h2v1h-2zM315 107h2v1h-2zM319 107h1v1h-1zM321 107h1v1h-1zM323 107h6v1h-6zM330 107h3v1h-3zM335 107h1v1h-1zM337 107h1v1h-1zM341 107h1v1h-1zM281 108h1v1h-1zM291 108h2v1h-2zM295 108h1v1h-1zM299 108h2v1h-2zM302 108h2v1h-2zM307 108h2v1h-2zM312 108h1v1h-1zM314 108h6v1h-6zM324 108h3v1h-3zM328 108h1v1h-1zM330 108h4v1h-4zM336 108h1v1h-1zM340 108h1v1h-1zM283 109h2v1h-2zM291 109h1v1h-1zM295 109h6v1h-6zM302 109h2v1h-2zM305 109h8v1h-8zM314 109h4v1h-4zM320 109h1v1h-1zM322 109h1v1h-1zM327 109h3v1h-3zM333 109h2v1h-2zM336 109h2v1h-2zM342 109h2v1h-2zM349 109h1v1h-1zM289 110h1v1h-1zM293 110h2v1h-2zM296 110h1v1h-1zM301 110h2v1h-2zM304 110h5v1h-5zM310 110h2v1h-2zM313 110h2v1h-2zM316 110h1v1h-1zM318 110h6v1h-6zM325 110h1v1h-1zM327 110h12v1h-12zM340 110h2v1h-2zM364 110h2v1h-2zM281 111h2v1h-2zM287 111h1v1h-1zM291 111h2v1h-2zM296 111h1v1h-1zM299 111h3v1h-3zM303 111h1v1h-1zM305 111h5v1h-5zM311 111h7v1h-7zM319 111h6v1h-6zM328 111h4v1h-4zM333 111h2v1h-2zM338 111h5v1h-5zM280 112h1v1h-1zM290 112h1v1h-1zM292 112h12v1h-12zM305 112h3v1h-3zM309 112h7v1h-7zM317 112h5v1h-5zM323 112h9v1h-9zM333 112h2v1h-2zM336 112h2v1h-2zM339 112h1v1h-1zM344 112h1v1h-1zM347 112h1v1h-1zM350 112h1v1h-1zM288 113h6v1h-6zM295 113h2v1h-2zM298 113h1v1h-1zM300 113h18v1h-18zM319 113h4v1h-4zM325 113h9v1h-9zM335 113h8v1h-8zM357 113h1v1h-1zM359 113h1v1h-1zM286 114h5v1h-5zM292 114h2v1h-2zM295 114h3v1h-3zM299 114h12v1h-12zM312 114h2v1h-2zM315 114h12v1h-12zM328 114h1v1h-1zM330 114h6v1h-6zM337 114h1v1h-1zM341 114h4v1h-4zM346 114h1v1h-1zM287 115h24v1h-24zM312 115h2v1h-2zM315 115h9v1h-9zM325 115h8v1h-8zM336 115h3v1h-3zM340 115h1v1h-1zM342 115h2v1h-2zM347 115h1v1h-1zM280 116h1v1h-1zM282 116h1v1h-1zM286 116h4v1h-4zM291 116h2v1h-2zM294 116h16v1h-16zM311 116h3v1h-3zM315 116h12v1h-12zM328 116h2v1h-2zM331 116h5v1h-5zM337 116h10v1h-10zM349 116h1v1h-1zM283 117h2v1h-2zM286 117h8v1h-8zM295 117h4v1h-4zM301 117h9v1h-9zM312 117h9v1h-9zM322 117h5v1h-5zM328 117h1v1h-1zM330 117h2v1h-2zM333 117h2v1h-2zM336 117h5v1h-5zM342 117h2v1h-2zM345 117h2v1h-2zM364 117h1v1h-1zM284 118h30v1h-30zM315 118h1v1h-1zM317 118h8v1h-8zM326 118h8v1h-8zM336 118h1v1h-1zM338 118h9v1h-9zM283 119h1v1h-1zM285 119h2v1h-2zM288 119h26v1h-26zM315 119h14v1h-14zM334 119h5v1h-5zM340 119h1v1h-1zM342 119h4v1h-4zM347 119h2v1h-2zM280 120h1v1h-1zM282 120h1v1h-1zM284 120h9v1h-9zM294 120h25v1h-25zM320 120h1v1h-1zM322 120h6v1h-6zM329 120h2v1h-2zM332 120h10v1h-10zM344 120h1v1h-1zM348 120h1v1h-1zM282 121h2v1h-2zM285 121h9v1h-9zM295 121h36v1h-36zM332 121h2v1h-2zM335 121h2v1h-2zM338 121h9v1h-9zM348 121h1v1h-1zM281 122h1v1h-1zM284 122h1v1h-1zM286 122h27v1h-27zM314 122h11v1h-11zM326 122h7v1h-7zM334 122h2v1h-2zM339 122h2v1h-2zM343 122h2v1h-2zM346 122h1v1h-1zM348 122h1v1h-1zM281 123h32v1h-32zM315 123h16v1h-16zM332 123h2v1h-2zM336 123h9v1h-9zM346 123h1v1h-1zM280 124h2v1h-2zM284 124h18v1h-18zM303 124h7v1h-7zM311 124h5v1h-5zM317 124h10v1h-10zM328 124h2v1h-2zM331 124h1v1h-1zM334 124h9v1h-9zM344 124h2v1h-2zM347 124h1v1h-1zM350 124h1v1h-1zM282 125h1v1h-1zM284 125h10v1h-10zM295 125h3v1h-3zM299 125h20v1h-20zM320 125h2v1h-2zM323 125h15v1h-15zM339 125h4v1h-4zM344 125h1v1h-1zM346 125h2v1h-2zM285 126h48v1h-48zM334 126h3v1h-3zM338 126h7v1h-7zM349 126h1v1h-1zM285 127h1v1h-1zM287 127h7v1h-7zM295 127h10v1h-10zM306 127h2v1h-2zM309 127h1v1h-1zM311 127h1v1h-1zM313 127h11v1h-11zM325 127h14v1h-14zM340 127h5v1h-5zM347 127h3v1h-3zM284 128h3v1h-3zM288 128h6v1h-6zM295 128h18v1h-18zM314 128h8v1h-8zM323 128h5v1h-5zM329 128h3v1h-3zM335 128h2v1h-2zM338 128h8v1h-8zM348 128h1v1h-1zM283 129h1v1h-1zM285 129h8v1h-8zM294 129h3v1h-3zM298 129h3v1h-3zM302 129h10v1h-10zM313 129h2v1h-2zM316 129h18v1h-18zM336 129h5v1h-5zM342 129h3v1h-3zM346 129h1v1h-1zM282 130h1v1h-1zM284 130h2v1h-2zM288 130h35v1h-35zM324 130h1v1h-1zM326 130h6v1h-6zM333 130h2v1h-2zM336 130h3v1h-3zM341 130h3v1h-3zM347 130h1v1h-1zM284 131h27v1h-27zM312 131h9v1h-9zM322 131h11v1h-11zM335 131h4v1h-4zM340 131h3v1h-3zM344 131h1v1h-1zM347 131h1v1h-1zM349 131h1v1h-1zM352 131h1v1h-1zM281 132h3v1h-3zM285 132h3v1h-3zM290 132h9v1h-9zM300 132h14v1h-14zM315 132h3v1h-3zM320 132h2v1h-2zM323 132h8v1h-8zM332 132h6v1h-6zM339 132h2v1h-2zM342 132h4v1h-4zM282 133h1v1h-1zM284 133h3v1h-3zM288 133h7v1h-7zM297 133h17v1h-17zM315 133h14v1h-14zM330 133h7v1h-7zM339 133h2v1h-2zM344 133h3v1h-3zM282 134h1v1h-1zM284 134h3v1h-3zM288 134h6v1h-6zM296 134h4v1h-4zM301 134h2v1h-2zM304 134h6v1h-6zM311 134h2v1h-2zM314 134h2v1h-2zM317 134h7v1h-7zM326 134h7v1h-7zM334 134h2v1h-2zM337 134h3v1h-3zM341 134h2v1h-2zM344 134h2v1h-2zM347 134h1v1h-1z"/></g>
<path d="M279.1 34.7H379.9V135.3" stroke="#a0a0a0" stroke-width="1.4" fill="none"/>
<path d="M279.1 34.0V135.3H380.59999999999997" stroke="#1a1a1a" stroke-width="1.45" fill="none"/>
<path d="M289.2 135.8v1.6M278.6 125.2h-1.6M295.1 135.8v1.6M278.6 119.3h-1.6M299.3 135.8v1.6M278.6 115.1h-1.6M302.6 135.8v1.6M278.6 111.9h-1.6M305.2 135.8v1.6M278.6 109.2h-1.6M307.5 135.8v1.6M278.6 107.0h-1.6M309.4 135.8v1.6M278.6 105.0h-1.6M311.2 135.8v1.6M278.6 103.3h-1.6M312.7 135.8v2.2M278.6 101.8h-2.2M322.8 135.8v1.6M278.6 91.7h-1.6M328.7 135.8v1.6M278.6 85.8h-1.6M332.9 135.8v1.6M278.6 81.6h-1.6M336.2 135.8v1.6M278.6 78.3h-1.6M338.8 135.8v1.6M278.6 75.7h-1.6M341.1 135.8v1.6M278.6 73.4h-1.6M343.0 135.8v1.6M278.6 71.5h-1.6M344.8 135.8v1.6M278.6 69.8h-1.6M346.3 135.8v2.2M278.6 68.2h-2.2M356.4 135.8v1.6M278.6 58.1h-1.6M362.3 135.8v1.6M278.6 52.2h-1.6M366.5 135.8v1.6M278.6 48.0h-1.6M369.8 135.8v1.6M278.6 44.8h-1.6M372.4 135.8v1.6M278.6 42.1h-1.6M374.7 135.8v1.6M278.6 39.9h-1.6M376.6 135.8v1.6M278.6 37.9h-1.6M378.4 135.8v1.6M278.6 36.2h-1.6" stroke="#555" stroke-width="0.5" fill="none"/>
<text x="267.8" y="40.0" class="tk">10<tspan dy="-2.6" font-size="3.6">3</tspan></text>
<text x="267.8" y="73.53333333333335" class="tk">10<tspan dy="-2.6" font-size="3.6">2</tspan></text>
<text x="267.8" y="107.06666666666668" class="tk">10<tspan dy="-2.6" font-size="3.6">1</tspan></text>
<text x="267.8" y="140.60000000000002" class="tk">10<tspan dy="-2.6" font-size="3.6">0</tspan></text>
<text x="274.6" y="147.10000000000002" class="tk">10<tspan dy="-2.6" font-size="3.6">0</tspan></text>
<text x="308.2" y="147.10000000000002" class="tk">10<tspan dy="-2.6" font-size="3.6">1</tspan></text>
<text x="341.8" y="147.10000000000002" class="tk">10<tspan dy="-2.6" font-size="3.6">2</tspan></text>
<text x="375.4" y="147.10000000000002" class="tk">10<tspan dy="-2.6" font-size="3.6">3</tspan></text>
<path d="M438.3 35.1V136.0M405.1 98.4H505.3" stroke="#777" stroke-width="1" fill="none"/>
<g filter="url(#bl)"><path fill="#000" d="M469 65h1v1h-1zM503 70h1v1h-1zM406 87h1v1h-1zM412 88h1v1h-1zM483 89h1v1h-1zM416 91h1v1h-1zM418 91h1v1h-1zM436 94h1v1h-1zM439 94h1v1h-1zM420 95h1v1h-1zM435 95h1v1h-1zM448 95h1v1h-1zM413 96h1v1h-1zM433 97h1v1h-1zM418 98h1v1h-1zM425 98h1v1h-1zM430 98h1v1h-1zM421 99h1v1h-1zM434 99h1v1h-1zM410 100h1v1h-1zM420 100h1v1h-1zM422 100h1v1h-1zM424 100h1v1h-1zM430 100h3v1h-3zM438 100h1v1h-1zM427 101h2v1h-2zM435 101h1v1h-1zM406 102h1v1h-1zM419 102h2v1h-2zM432 102h1v1h-1zM449 102h1v1h-1zM411 103h1v1h-1zM417 103h1v1h-1zM422 103h1v1h-1zM434 103h1v1h-1zM441 103h1v1h-1zM443 103h1v1h-1zM420 104h1v1h-1zM423 104h1v1h-1zM431 104h2v1h-2zM444 104h1v1h-1zM419 105h2v1h-2zM422 105h1v1h-1zM426 105h1v1h-1zM428 105h1v1h-1zM442 105h1v1h-1zM448 105h1v1h-1zM461 105h1v1h-1zM418 106h2v1h-2zM422 106h2v1h-2zM425 106h2v1h-2zM434 106h1v1h-1zM437 106h2v1h-2zM443 106h1v1h-1zM448 106h1v1h-1zM420 107h1v1h-1zM425 107h3v1h-3zM429 107h1v1h-1zM431 107h1v1h-1zM433 107h1v1h-1zM438 107h1v1h-1zM443 107h1v1h-1zM411 108h1v1h-1zM421 108h1v1h-1zM427 108h1v1h-1zM430 108h1v1h-1zM432 108h1v1h-1zM438 108h1v1h-1zM412 109h1v1h-1zM418 109h1v1h-1zM420 109h1v1h-1zM423 109h2v1h-2zM426 109h1v1h-1zM428 109h1v1h-1zM432 109h2v1h-2zM435 109h1v1h-1zM437 109h1v1h-1zM444 109h1v1h-1zM449 109h1v1h-1zM463 109h1v1h-1zM409 110h1v1h-1zM411 110h1v1h-1zM414 110h1v1h-1zM417 110h1v1h-1zM422 110h1v1h-1zM424 110h3v1h-3zM428 110h2v1h-2zM435 110h1v1h-1zM438 110h1v1h-1zM440 110h1v1h-1zM407 111h1v1h-1zM411 111h1v1h-1zM416 111h1v1h-1zM419 111h2v1h-2zM422 111h1v1h-1zM424 111h1v1h-1zM426 111h2v1h-2zM430 111h4v1h-4zM435 111h1v1h-1zM406 112h1v1h-1zM413 112h2v1h-2zM416 112h9v1h-9zM426 112h4v1h-4zM433 112h1v1h-1zM436 112h1v1h-1zM439 112h1v1h-1zM410 113h3v1h-3zM415 113h18v1h-18zM438 113h1v1h-1zM443 113h1v1h-1zM453 113h2v1h-2zM407 114h17v1h-17zM425 114h8v1h-8zM434 114h1v1h-1zM439 114h2v1h-2zM409 115h23v1h-23zM433 115h4v1h-4zM442 115h1v1h-1zM450 115h1v1h-1zM409 116h27v1h-27zM437 116h1v1h-1zM439 116h1v1h-1zM442 116h1v1h-1zM449 116h1v1h-1zM451 116h1v1h-1zM463 116h1v1h-1zM465 116h1v1h-1zM409 117h1v1h-1zM411 117h22v1h-22zM434 117h3v1h-3zM438 117h1v1h-1zM447 117h1v1h-1zM450 117h1v1h-1zM463 117h1v1h-1zM408 118h8v1h-8zM417 118h17v1h-17zM435 118h1v1h-1zM437 118h1v1h-1zM439 118h1v1h-1zM449 118h1v1h-1zM452 118h1v1h-1zM407 119h2v1h-2zM410 119h1v1h-1zM412 119h24v1h-24zM443 119h1v1h-1zM446 119h1v1h-1zM448 119h1v1h-1zM450 119h1v1h-1zM452 119h1v1h-1zM406 120h1v1h-1zM408 120h15v1h-15zM424 120h9v1h-9zM434 120h3v1h-3zM438 120h6v1h-6zM445 120h1v1h-1zM447 120h1v1h-1zM449 120h3v1h-3zM457 120h1v1h-1zM406 121h31v1h-31zM444 121h1v1h-1zM447 121h2v1h-2zM451 121h1v1h-1zM459 121h1v1h-1zM406 122h8v1h-8zM415 122h23v1h-23zM439 122h1v1h-1zM443 122h1v1h-1zM445 122h4v1h-4zM451 122h2v1h-2zM461 122h2v1h-2zM407 123h31v1h-31zM439 123h2v1h-2zM443 123h2v1h-2zM446 123h3v1h-3zM450 123h3v1h-3zM456 123h1v1h-1zM407 124h27v1h-27zM435 124h3v1h-3zM439 124h2v1h-2zM443 124h1v1h-1zM445 124h1v1h-1zM449 124h1v1h-1zM451 124h5v1h-5zM457 124h2v1h-2zM406 125h31v1h-31zM440 125h1v1h-1zM446 125h2v1h-2zM449 125h1v1h-1zM453 125h1v1h-1zM455 125h1v1h-1zM459 125h1v1h-1zM469 125h1v1h-1zM406 126h2v1h-2zM409 126h1v1h-1zM412 126h13v1h-13zM426 126h12v1h-12zM439 126h1v1h-1zM443 126h1v1h-1zM447 126h2v1h-2zM450 126h1v1h-1zM452 126h2v1h-2zM455 126h2v1h-2zM462 126h1v1h-1zM468 126h1v1h-1zM407 127h29v1h-29zM439 127h4v1h-4zM445 127h1v1h-1zM450 127h1v1h-1zM452 127h1v1h-1zM406 128h31v1h-31zM441 128h3v1h-3zM450 128h1v1h-1zM456 128h1v1h-1zM407 129h15v1h-15zM423 129h7v1h-7zM431 129h5v1h-5zM437 129h1v1h-1zM439 129h1v1h-1zM444 129h3v1h-3zM448 129h3v1h-3zM453 129h1v1h-1zM455 129h2v1h-2zM460 129h1v1h-1zM464 129h1v1h-1zM466 129h1v1h-1zM407 130h1v1h-1zM409 130h1v1h-1zM411 130h16v1h-16zM428 130h10v1h-10zM442 130h1v1h-1zM447 130h2v1h-2zM453 130h1v1h-1zM407 131h19v1h-19zM427 131h3v1h-3zM431 131h7v1h-7zM440 131h1v1h-1zM450 131h1v1h-1zM454 131h1v1h-1zM459 131h1v1h-1zM407 132h1v1h-1zM409 132h20v1h-20zM430 132h9v1h-9zM440 132h4v1h-4zM447 132h1v1h-1zM452 132h2v1h-2zM406 133h1v1h-1zM408 133h10v1h-10zM419 133h6v1h-6zM426 133h12v1h-12zM440 133h1v1h-1zM442 133h1v1h-1zM446 133h1v1h-1zM407 134h1v1h-1zM410 134h7v1h-7zM418 134h1v1h-1zM420 134h1v1h-1zM422 134h4v1h-4zM427 134h6v1h-6zM437 134h1v1h-1zM440 134h1v1h-1zM448 134h1v1h-1zM461 134h1v1h-1zM407 135h4v1h-4zM412 135h2v1h-2zM416 135h13v1h-13zM430 135h7v1h-7zM447 135h1v1h-1zM449 135h1v1h-1z"/></g>
<path d="M405.1 35.1H505.3V136.0" stroke="#a0a0a0" stroke-width="1.4" fill="none"/>
<path d="M405.1 34.4V136.0H506.0" stroke="#1a1a1a" stroke-width="1.45" fill="none"/>
<path d="M415.2 136.5v1.6M404.6 125.9h-1.6M421.0 136.5v1.6M404.6 120.0h-1.6M425.2 136.5v1.6M404.6 115.8h-1.6M428.4 136.5v1.6M404.6 112.5h-1.6M431.1 136.5v1.6M404.6 109.8h-1.6M433.3 136.5v1.6M404.6 107.6h-1.6M435.3 136.5v1.6M404.6 105.6h-1.6M437.0 136.5v1.6M404.6 103.9h-1.6M438.5 136.5v2.2M404.6 102.4h-2.2M448.6 136.5v1.6M404.6 92.2h-1.6M454.4 136.5v1.6M404.6 86.3h-1.6M458.6 136.5v1.6M404.6 82.1h-1.6M461.8 136.5v1.6M404.6 78.9h-1.6M464.5 136.5v1.6M404.6 76.2h-1.6M466.7 136.5v1.6M404.6 73.9h-1.6M468.7 136.5v1.6M404.6 72.0h-1.6M470.4 136.5v1.6M404.6 70.3h-1.6M471.9 136.5v2.2M404.6 68.7h-2.2M482.0 136.5v1.6M404.6 58.6h-1.6M487.8 136.5v1.6M404.6 52.7h-1.6M492.0 136.5v1.6M404.6 48.5h-1.6M495.2 136.5v1.6M404.6 45.2h-1.6M497.9 136.5v1.6M404.6 42.6h-1.6M500.1 136.5v1.6M404.6 40.3h-1.6M502.1 136.5v1.6M404.6 38.4h-1.6M503.8 136.5v1.6M404.6 36.6h-1.6" stroke="#555" stroke-width="0.5" fill="none"/>
<text x="393.8" y="40.4" class="tk">10<tspan dy="-2.6" font-size="3.6">3</tspan></text>
<text x="393.8" y="74.03333333333333" class="tk">10<tspan dy="-2.6" font-size="3.6">2</tspan></text>
<text x="393.8" y="107.66666666666667" class="tk">10<tspan dy="-2.6" font-size="3.6">1</tspan></text>
<text x="393.8" y="141.3" class="tk">10<tspan dy="-2.6" font-size="3.6">0</tspan></text>
<text x="400.6" y="147.8" class="tk">10<tspan dy="-2.6" font-size="3.6">0</tspan></text>
<text x="434.0" y="147.8" class="tk">10<tspan dy="-2.6" font-size="3.6">1</tspan></text>
<text x="467.40000000000003" y="147.8" class="tk">10<tspan dy="-2.6" font-size="3.6">2</tspan></text>
<text x="500.8" y="147.8" class="tk">10<tspan dy="-2.6" font-size="3.6">3</tspan></text>
<path d="M65.1 181.1V281.1M32.0 243.8H131.6" stroke="#777" stroke-width="1" fill="none"/>
<g filter="url(#bl)"><path fill="#000" d="M72 185h1v1h-1zM48 196h1v1h-1zM33 203h1v1h-1zM65 203h1v1h-1zM75 203h1v1h-1zM64 205h1v1h-1zM106 205h1v1h-1zM60 206h2v1h-2zM93 206h1v1h-1zM47 207h1v1h-1zM74 208h2v1h-2zM77 208h1v1h-1zM90 208h1v1h-1zM70 209h1v1h-1zM72 209h1v1h-1zM75 209h1v1h-1zM81 209h1v1h-1zM83 209h1v1h-1zM87 209h1v1h-1zM91 209h1v1h-1zM65 210h1v1h-1zM67 210h1v1h-1zM69 210h1v1h-1zM88 210h1v1h-1zM90 210h1v1h-1zM92 210h1v1h-1zM98 210h1v1h-1zM103 210h1v1h-1zM56 211h1v1h-1zM61 211h1v1h-1zM66 211h1v1h-1zM70 211h3v1h-3zM77 211h1v1h-1zM81 211h1v1h-1zM93 211h1v1h-1zM96 211h1v1h-1zM99 211h1v1h-1zM105 211h1v1h-1zM36 212h1v1h-1zM47 212h1v1h-1zM57 212h1v1h-1zM60 212h1v1h-1zM75 212h3v1h-3zM84 212h1v1h-1zM91 212h1v1h-1zM102 212h2v1h-2zM60 213h1v1h-1zM63 213h1v1h-1zM65 213h1v1h-1zM69 213h1v1h-1zM72 213h3v1h-3zM78 213h2v1h-2zM84 213h1v1h-1zM99 213h1v1h-1zM104 213h1v1h-1zM45 214h1v1h-1zM48 214h1v1h-1zM60 214h1v1h-1zM68 214h2v1h-2zM81 214h1v1h-1zM83 214h1v1h-1zM87 214h1v1h-1zM92 214h1v1h-1zM96 214h1v1h-1zM103 214h1v1h-1zM41 215h1v1h-1zM47 215h1v1h-1zM54 215h1v1h-1zM56 215h2v1h-2zM67 215h3v1h-3zM73 215h2v1h-2zM79 215h1v1h-1zM89 215h1v1h-1zM107 215h1v1h-1zM113 215h1v1h-1zM51 216h1v1h-1zM53 216h2v1h-2zM57 216h1v1h-1zM60 216h3v1h-3zM64 216h1v1h-1zM66 216h1v1h-1zM68 216h2v1h-2zM74 216h1v1h-1zM77 216h1v1h-1zM80 216h2v1h-2zM83 216h1v1h-1zM85 216h1v1h-1zM88 216h7v1h-7zM96 216h1v1h-1zM98 216h1v1h-1zM104 216h1v1h-1zM54 217h1v1h-1zM58 217h1v1h-1zM60 217h1v1h-1zM62 217h1v1h-1zM68 217h1v1h-1zM70 217h2v1h-2zM76 217h1v1h-1zM80 217h2v1h-2zM83 217h2v1h-2zM86 217h1v1h-1zM88 217h1v1h-1zM90 217h2v1h-2zM94 217h2v1h-2zM47 218h1v1h-1zM50 218h1v1h-1zM54 218h2v1h-2zM59 218h1v1h-1zM62 218h4v1h-4zM71 218h6v1h-6zM78 218h1v1h-1zM83 218h4v1h-4zM90 218h1v1h-1zM92 218h2v1h-2zM96 218h1v1h-1zM40 219h1v1h-1zM47 219h3v1h-3zM51 219h1v1h-1zM53 219h1v1h-1zM56 219h2v1h-2zM60 219h2v1h-2zM63 219h1v1h-1zM66 219h2v1h-2zM71 219h3v1h-3zM76 219h3v1h-3zM80 219h1v1h-1zM83 219h1v1h-1zM85 219h2v1h-2zM95 219h2v1h-2zM104 219h1v1h-1zM106 219h2v1h-2zM50 220h1v1h-1zM53 220h2v1h-2zM57 220h1v1h-1zM59 220h3v1h-3zM65 220h1v1h-1zM67 220h1v1h-1zM69 220h2v1h-2zM73 220h4v1h-4zM78 220h3v1h-3zM82 220h2v1h-2zM85 220h2v1h-2zM88 220h2v1h-2zM94 220h1v1h-1zM100 220h2v1h-2zM103 220h3v1h-3zM36 221h1v1h-1zM38 221h1v1h-1zM40 221h1v1h-1zM53 221h1v1h-1zM57 221h3v1h-3zM62 221h3v1h-3zM68 221h1v1h-1zM70 221h1v1h-1zM72 221h1v1h-1zM74 221h2v1h-2zM78 221h1v1h-1zM80 221h4v1h-4zM85 221h2v1h-2zM90 221h2v1h-2zM93 221h3v1h-3zM98 221h1v1h-1zM40 222h1v1h-1zM42 222h2v1h-2zM45 222h1v1h-1zM48 222h5v1h-5zM54 222h1v1h-1zM58 222h2v1h-2zM62 222h1v1h-1zM65 222h4v1h-4zM71 222h1v1h-1zM73 222h2v1h-2zM76 222h2v1h-2zM80 222h2v1h-2zM84 222h4v1h-4zM92 222h2v1h-2zM97 222h2v1h-2zM103 222h1v1h-1zM109 222h1v1h-1zM43 223h2v1h-2zM46 223h2v1h-2zM55 223h2v1h-2zM60 223h4v1h-4zM66 223h6v1h-6zM74 223h3v1h-3zM82 223h1v1h-1zM84 223h4v1h-4zM93 223h1v1h-1zM96 223h2v1h-2zM99 223h1v1h-1zM108 223h1v1h-1zM37 224h1v1h-1zM42 224h2v1h-2zM45 224h1v1h-1zM47 224h1v1h-1zM53 224h2v1h-2zM58 224h5v1h-5zM65 224h1v1h-1zM67 224h1v1h-1zM69 224h6v1h-6zM77 224h6v1h-6zM84 224h1v1h-1zM88 224h1v1h-1zM90 224h1v1h-1zM92 224h3v1h-3zM96 224h1v1h-1zM99 224h1v1h-1zM41 225h1v1h-1zM43 225h4v1h-4zM48 225h1v1h-1zM50 225h2v1h-2zM53 225h3v1h-3zM68 225h3v1h-3zM73 225h1v1h-1zM75 225h1v1h-1zM77 225h1v1h-1zM79 225h1v1h-1zM82 225h2v1h-2zM85 225h1v1h-1zM89 225h3v1h-3zM101 225h1v1h-1zM108 225h1v1h-1zM111 225h1v1h-1zM42 226h2v1h-2zM46 226h3v1h-3zM51 226h1v1h-1zM53 226h1v1h-1zM55 226h2v1h-2zM61 226h3v1h-3zM66 226h1v1h-1zM68 226h2v1h-2zM72 226h1v1h-1zM74 226h9v1h-9zM85 226h1v1h-1zM87 226h4v1h-4zM93 226h2v1h-2zM99 226h2v1h-2zM103 226h3v1h-3zM42 227h3v1h-3zM46 227h2v1h-2zM49 227h3v1h-3zM53 227h1v1h-1zM56 227h1v1h-1zM58 227h2v1h-2zM62 227h2v1h-2zM65 227h1v1h-1zM69 227h2v1h-2zM72 227h2v1h-2zM76 227h1v1h-1zM80 227h1v1h-1zM82 227h4v1h-4zM87 227h1v1h-1zM89 227h1v1h-1zM91 227h1v1h-1zM93 227h3v1h-3zM102 227h1v1h-1zM39 228h1v1h-1zM41 228h1v1h-1zM43 228h3v1h-3zM49 228h1v1h-1zM51 228h2v1h-2zM58 228h1v1h-1zM60 228h1v1h-1zM62 228h1v1h-1zM64 228h4v1h-4zM69 228h7v1h-7zM78 228h2v1h-2zM82 228h1v1h-1zM84 228h2v1h-2zM89 228h1v1h-1zM95 228h4v1h-4zM100 228h1v1h-1zM103 228h1v1h-1zM39 229h1v1h-1zM41 229h1v1h-1zM43 229h10v1h-10zM54 229h1v1h-1zM58 229h3v1h-3zM62 229h1v1h-1zM64 229h1v1h-1zM66 229h2v1h-2zM69 229h1v1h-1zM71 229h2v1h-2zM74 229h1v1h-1zM76 229h7v1h-7zM84 229h3v1h-3zM88 229h1v1h-1zM91 229h3v1h-3zM95 229h2v1h-2zM98 229h1v1h-1zM102 229h1v1h-1zM40 230h1v1h-1zM42 230h1v1h-1zM44 230h6v1h-6zM51 230h2v1h-2zM57 230h1v1h-1zM59 230h1v1h-1zM62 230h1v1h-1zM71 230h1v1h-1zM73 230h1v1h-1zM79 230h1v1h-1zM81 230h2v1h-2zM86 230h1v1h-1zM88 230h1v1h-1zM97 230h3v1h-3zM105 230h1v1h-1zM107 230h1v1h-1zM40 231h2v1h-2zM43 231h6v1h-6zM51 231h3v1h-3zM56 231h3v1h-3zM60 231h2v1h-2zM63 231h2v1h-2zM68 231h3v1h-3zM73 231h2v1h-2zM80 231h2v1h-2zM83 231h1v1h-1zM85 231h2v1h-2zM90 231h1v1h-1zM92 231h1v1h-1zM94 231h1v1h-1zM37 232h1v1h-1zM40 232h2v1h-2zM43 232h5v1h-5zM49 232h2v1h-2zM53 232h6v1h-6zM61 232h1v1h-1zM63 232h1v1h-1zM67 232h1v1h-1zM69 232h2v1h-2zM72 232h1v1h-1zM74 232h3v1h-3zM80 232h3v1h-3zM84 232h2v1h-2zM88 232h1v1h-1zM95 232h1v1h-1zM97 232h1v1h-1zM99 232h1v1h-1zM38 233h14v1h-14zM54 233h1v1h-1zM56 233h1v1h-1zM59 233h1v1h-1zM61 233h1v1h-1zM63 233h1v1h-1zM70 233h2v1h-2zM73 233h1v1h-1zM75 233h1v1h-1zM78 233h1v1h-1zM80 233h1v1h-1zM83 233h1v1h-1zM87 233h5v1h-5zM93 233h1v1h-1zM97 233h1v1h-1zM99 233h1v1h-1zM108 233h1v1h-1zM34 234h3v1h-3zM38 234h1v1h-1zM40 234h14v1h-14zM55 234h4v1h-4zM60 234h3v1h-3zM64 234h1v1h-1zM68 234h1v1h-1zM70 234h1v1h-1zM72 234h3v1h-3zM76 234h1v1h-1zM78 234h4v1h-4zM84 234h1v1h-1zM86 234h1v1h-1zM36 235h2v1h-2zM39 235h12v1h-12zM52 235h2v1h-2zM55 235h5v1h-5zM62 235h2v1h-2zM65 235h1v1h-1zM74 235h1v1h-1zM77 235h1v1h-1zM82 235h1v1h-1zM89 235h1v1h-1zM97 235h1v1h-1zM100 235h1v1h-1zM34 236h1v1h-1zM38 236h13v1h-13zM54 236h1v1h-1zM57 236h1v1h-1zM60 236h2v1h-2zM64 236h1v1h-1zM74 236h1v1h-1zM78 236h4v1h-4zM84 236h1v1h-1zM86 236h1v1h-1zM90 236h1v1h-1zM35 237h1v1h-1zM37 237h19v1h-19zM59 237h1v1h-1zM61 237h2v1h-2zM64 237h1v1h-1zM66 237h4v1h-4zM78 237h1v1h-1zM83 237h1v1h-1zM85 237h2v1h-2zM91 237h1v1h-1zM95 237h2v1h-2zM98 237h1v1h-1zM105 237h1v1h-1zM37 238h1v1h-1zM39 238h11v1h-11zM53 238h1v1h-1zM58 238h1v1h-1zM64 238h1v1h-1zM66 238h1v1h-1zM70 238h1v1h-1zM91 238h1v1h-1zM95 238h1v1h-1zM34 239h1v1h-1zM36 239h1v1h-1zM38 239h3v1h-3zM42 239h2v1h-2zM45 239h7v1h-7zM53 239h1v1h-1zM55 239h3v1h-3zM60 239h3v1h-3zM66 239h2v1h-2zM69 239h1v1h-1zM78 239h3v1h-3zM82 239h2v1h-2zM89 239h1v1h-1zM35 240h20v1h-20zM65 240h1v1h-1zM68 240h1v1h-1zM81 240h1v1h-1zM88 240h2v1h-2zM91 240h1v1h-1zM35 241h1v1h-1zM37 241h2v1h-2zM40 241h15v1h-15zM57 241h1v1h-1zM59 241h2v1h-2zM62 241h1v1h-1zM67 241h2v1h-2zM76 241h1v1h-1zM83 241h1v1h-1zM93 241h1v1h-1zM103 241h1v1h-1zM115 241h1v1h-1zM35 242h1v1h-1zM38 242h1v1h-1zM40 242h14v1h-14zM60 242h1v1h-1zM70 242h1v1h-1zM80 242h1v1h-1zM35 243h1v1h-1zM37 243h13v1h-13zM52 243h1v1h-1zM62 243h2v1h-2zM69 243h1v1h-1zM83 243h1v1h-1zM96 243h1v1h-1zM102 243h1v1h-1zM36 244h2v1h-2zM39 244h13v1h-13zM60 244h1v1h-1zM67 244h1v1h-1zM84 244h1v1h-1zM33 245h1v1h-1zM35 245h16v1h-16zM52 245h1v1h-1zM55 245h1v1h-1zM60 245h3v1h-3zM66 245h1v1h-1zM69 245h1v1h-1zM35 246h2v1h-2zM38 246h16v1h-16zM60 246h1v1h-1zM66 246h1v1h-1zM68 246h1v1h-1zM100 246h1v1h-1zM34 247h1v1h-1zM36 247h2v1h-2zM39 247h11v1h-11zM51 247h2v1h-2zM58 247h1v1h-1zM76 247h1v1h-1zM78 247h1v1h-1zM88 247h1v1h-1zM35 248h1v1h-1zM37 248h13v1h-13zM52 248h1v1h-1zM54 248h1v1h-1zM62 248h1v1h-1zM65 248h1v1h-1zM96 248h1v1h-1zM124 248h1v1h-1zM34 249h3v1h-3zM38 249h13v1h-13zM54 249h2v1h-2zM64 249h1v1h-1zM75 249h1v1h-1zM80 249h1v1h-1zM37 250h4v1h-4zM42 250h8v1h-8zM51 250h1v1h-1zM57 250h2v1h-2zM61 250h1v1h-1zM66 250h1v1h-1zM34 251h2v1h-2zM37 251h9v1h-9zM47 251h1v1h-1zM49 251h3v1h-3zM53 251h1v1h-1zM58 251h2v1h-2zM66 251h1v1h-1zM34 252h8v1h-8zM43 252h6v1h-6zM52 252h1v1h-1zM56 252h1v1h-1zM62 252h1v1h-1zM35 253h15v1h-15zM52 253h1v1h-1zM54 253h1v1h-1zM35 254h1v1h-1zM37 254h1v1h-1zM39 254h8v1h-8zM50 254h1v1h-1zM103 254h1v1h-1zM35 255h13v1h-13zM49 255h2v1h-2zM52 255h1v1h-1zM38 256h1v1h-1zM40 256h2v1h-2zM44 256h1v1h-1zM46 256h3v1h-3zM35 257h4v1h-4zM40 257h3v1h-3zM45 257h1v1h-1zM48 257h3v1h-3zM70 257h1v1h-1zM93 257h1v1h-1zM34 258h10v1h-10zM47 258h1v1h-1zM58 258h1v1h-1zM60 258h1v1h-1zM67 258h1v1h-1zM33 259h1v1h-1zM38 259h5v1h-5zM45 259h2v1h-2zM49 259h1v1h-1zM68 259h1v1h-1zM95 259h1v1h-1zM33 260h1v1h-1zM37 260h1v1h-1zM39 260h1v1h-1zM41 260h4v1h-4zM48 260h1v1h-1zM50 260h1v1h-1zM71 260h1v1h-1zM33 261h1v1h-1zM37 261h3v1h-3zM41 261h1v1h-1zM45 261h1v1h-1zM47 261h1v1h-1zM49 261h1v1h-1zM53 261h1v1h-1zM76 261h1v1h-1zM34 262h2v1h-2zM37 262h2v1h-2zM41 262h3v1h-3zM45 262h1v1h-1zM37 263h4v1h-4zM42 263h2v1h-2zM45 263h1v1h-1zM47 263h1v1h-1zM74 263h1v1h-1zM35 264h1v1h-1zM38 264h4v1h-4zM34 265h2v1h-2zM38 265h5v1h-5zM44 265h1v1h-1zM49 265h1v1h-1zM40 266h1v1h-1zM43 266h1v1h-1zM45 266h1v1h-1zM34 267h2v1h-2zM38 267h1v1h-1zM41 267h1v1h-1zM43 267h2v1h-2zM47 267h1v1h-1zM73 267h1v1h-1zM37 268h4v1h-4zM72 268h1v1h-1zM78 268h1v1h-1zM36 269h1v1h-1zM40 269h3v1h-3zM45 269h1v1h-1zM60 269h1v1h-1zM35 270h1v1h-1zM37 270h3v1h-3zM43 270h1v1h-1zM45 270h1v1h-1zM47 270h1v1h-1zM59 270h1v1h-1zM36 271h1v1h-1zM46 271h1v1h-1zM35 272h1v1h-1zM38 272h1v1h-1zM40 272h1v1h-1zM42 272h1v1h-1zM45 272h1v1h-1zM54 272h1v1h-1zM63 272h1v1h-1zM67 272h1v1h-1zM107 272h1v1h-1zM41 273h1v1h-1zM69 273h1v1h-1zM39 274h1v1h-1zM40 275h1v1h-1zM44 275h1v1h-1zM49 275h1v1h-1zM80 278h1v1h-1zM96 278h1v1h-1zM49 279h1v1h-1zM41 280h1v1h-1z"/></g>
<path d="M32.0 181.1H131.6V281.1" stroke="#a0a0a0" stroke-width="1.4" fill="none"/>
<path d="M32.0 180.4V281.1H132.29999999999998" stroke="#1a1a1a" stroke-width="1.45" fill="none"/>
<path d="M42.0 281.6v1.6M31.5 271.1h-1.6M47.8 281.6v1.6M31.5 265.2h-1.6M52.0 281.6v1.6M31.5 261.0h-1.6M55.2 281.6v1.6M31.5 257.8h-1.6M57.8 281.6v1.6M31.5 255.2h-1.6M60.1 281.6v1.6M31.5 252.9h-1.6M62.0 281.6v1.6M31.5 251.0h-1.6M63.7 281.6v1.6M31.5 249.3h-1.6M65.2 281.6v2.2M31.5 247.8h-2.2M75.2 281.6v1.6M31.5 237.7h-1.6M81.0 281.6v1.6M31.5 231.9h-1.6M85.2 281.6v1.6M31.5 227.7h-1.6M88.4 281.6v1.6M31.5 224.5h-1.6M91.0 281.6v1.6M31.5 221.8h-1.6M93.3 281.6v1.6M31.5 219.6h-1.6M95.2 281.6v1.6M31.5 217.7h-1.6M96.9 281.6v1.6M31.5 216.0h-1.6M98.4 281.6v2.2M31.5 214.4h-2.2M108.4 281.6v1.6M31.5 204.4h-1.6M114.2 281.6v1.6M31.5 198.5h-1.6M118.4 281.6v1.6M31.5 194.4h-1.6M121.6 281.6v1.6M31.5 191.1h-1.6M124.2 281.6v1.6M31.5 188.5h-1.6M126.5 281.6v1.6M31.5 186.3h-1.6M128.4 281.6v1.6M31.5 184.3h-1.6M130.1 281.6v1.6M31.5 182.6h-1.6" stroke="#555" stroke-width="0.5" fill="none"/>
<text x="20.7" y="186.4" class="tk">10<tspan dy="-2.6" font-size="3.6">3</tspan></text>
<text x="20.7" y="219.73333333333335" class="tk">10<tspan dy="-2.6" font-size="3.6">2</tspan></text>
<text x="20.7" y="253.0666666666667" class="tk">10<tspan dy="-2.6" font-size="3.6">1</tspan></text>
<text x="20.7" y="286.40000000000003" class="tk">10<tspan dy="-2.6" font-size="3.6">0</tspan></text>
<text x="27.5" y="292.90000000000003" class="tk">10<tspan dy="-2.6" font-size="3.6">0</tspan></text>
<text x="60.69999999999999" y="292.90000000000003" class="tk">10<tspan dy="-2.6" font-size="3.6">1</tspan></text>
<text x="93.89999999999999" y="292.90000000000003" class="tk">10<tspan dy="-2.6" font-size="3.6">2</tspan></text>
<text x="127.1" y="292.90000000000003" class="tk">10<tspan dy="-2.6" font-size="3.6">3</tspan></text>
<path d="M188.3 181.1V281.6M154.4 244.5H256.3" stroke="#777" stroke-width="1" fill="none"/>
<g filter="url(#bl)"><path fill="#000" d="M174 196h1v1h-1zM177 196h1v1h-1zM181 196h1v1h-1zM181 202h1v1h-1zM186 205h1v1h-1zM201 205h1v1h-1zM195 206h1v1h-1zM180 207h1v1h-1zM186 207h1v1h-1zM159 208h1v1h-1zM178 208h1v1h-1zM186 208h1v1h-1zM196 208h1v1h-1zM213 208h1v1h-1zM215 208h1v1h-1zM167 209h1v1h-1zM174 209h1v1h-1zM177 209h2v1h-2zM187 209h3v1h-3zM195 209h1v1h-1zM198 209h1v1h-1zM224 209h1v1h-1zM229 209h1v1h-1zM172 210h1v1h-1zM178 210h1v1h-1zM184 210h1v1h-1zM193 210h1v1h-1zM206 210h1v1h-1zM208 210h1v1h-1zM222 210h1v1h-1zM169 211h1v1h-1zM171 211h1v1h-1zM175 211h1v1h-1zM189 211h1v1h-1zM193 211h1v1h-1zM195 211h2v1h-2zM204 211h1v1h-1zM217 211h2v1h-2zM222 211h1v1h-1zM225 211h1v1h-1zM234 211h1v1h-1zM171 212h1v1h-1zM175 212h1v1h-1zM177 212h3v1h-3zM183 212h1v1h-1zM189 212h1v1h-1zM193 212h1v1h-1zM195 212h1v1h-1zM203 212h1v1h-1zM208 212h2v1h-2zM211 212h1v1h-1zM214 212h1v1h-1zM218 212h1v1h-1zM170 213h1v1h-1zM176 213h1v1h-1zM181 213h1v1h-1zM184 213h1v1h-1zM189 213h1v1h-1zM196 213h2v1h-2zM203 213h2v1h-2zM206 213h1v1h-1zM216 213h2v1h-2zM221 213h1v1h-1zM229 213h1v1h-1zM167 214h1v1h-1zM178 214h1v1h-1zM182 214h1v1h-1zM190 214h1v1h-1zM193 214h1v1h-1zM200 214h2v1h-2zM204 214h1v1h-1zM210 214h1v1h-1zM213 214h1v1h-1zM221 214h1v1h-1zM224 214h1v1h-1zM240 214h1v1h-1zM175 215h2v1h-2zM182 215h2v1h-2zM199 215h1v1h-1zM202 215h1v1h-1zM204 215h1v1h-1zM211 215h1v1h-1zM213 215h2v1h-2zM217 215h2v1h-2zM162 216h1v1h-1zM172 216h1v1h-1zM177 216h2v1h-2zM180 216h3v1h-3zM185 216h1v1h-1zM190 216h1v1h-1zM195 216h3v1h-3zM199 216h1v1h-1zM206 216h1v1h-1zM208 216h3v1h-3zM213 216h1v1h-1zM215 216h1v1h-1zM218 216h1v1h-1zM225 216h1v1h-1zM228 216h1v1h-1zM235 216h1v1h-1zM245 216h1v1h-1zM165 217h1v1h-1zM170 217h1v1h-1zM173 217h1v1h-1zM178 217h2v1h-2zM182 217h2v1h-2zM186 217h3v1h-3zM190 217h1v1h-1zM195 217h2v1h-2zM198 217h1v1h-1zM201 217h2v1h-2zM204 217h1v1h-1zM208 217h1v1h-1zM212 217h2v1h-2zM217 217h1v1h-1zM221 217h1v1h-1zM223 217h1v1h-1zM227 217h1v1h-1zM176 218h1v1h-1zM181 218h1v1h-1zM183 218h4v1h-4zM188 218h1v1h-1zM192 218h2v1h-2zM195 218h1v1h-1zM197 218h2v1h-2zM200 218h1v1h-1zM202 218h7v1h-7zM213 218h1v1h-1zM215 218h1v1h-1zM218 218h3v1h-3zM222 218h1v1h-1zM233 218h1v1h-1zM168 219h1v1h-1zM171 219h3v1h-3zM178 219h1v1h-1zM181 219h3v1h-3zM185 219h2v1h-2zM188 219h2v1h-2zM197 219h1v1h-1zM199 219h3v1h-3zM203 219h4v1h-4zM208 219h2v1h-2zM211 219h2v1h-2zM219 219h1v1h-1zM221 219h1v1h-1zM224 219h2v1h-2zM228 219h1v1h-1zM238 219h1v1h-1zM169 220h1v1h-1zM178 220h1v1h-1zM180 220h1v1h-1zM184 220h3v1h-3zM193 220h4v1h-4zM200 220h1v1h-1zM203 220h1v1h-1zM205 220h1v1h-1zM208 220h1v1h-1zM212 220h2v1h-2zM215 220h1v1h-1zM219 220h1v1h-1zM222 220h1v1h-1zM227 220h1v1h-1zM229 220h1v1h-1zM238 220h1v1h-1zM162 221h1v1h-1zM166 221h1v1h-1zM168 221h1v1h-1zM172 221h4v1h-4zM177 221h3v1h-3zM181 221h1v1h-1zM185 221h1v1h-1zM188 221h3v1h-3zM192 221h2v1h-2zM197 221h3v1h-3zM202 221h1v1h-1zM206 221h1v1h-1zM210 221h1v1h-1zM214 221h3v1h-3zM226 221h1v1h-1zM228 221h1v1h-1zM166 222h1v1h-1zM168 222h1v1h-1zM172 222h1v1h-1zM177 222h1v1h-1zM181 222h8v1h-8zM190 222h4v1h-4zM195 222h2v1h-2zM199 222h2v1h-2zM202 222h3v1h-3zM207 222h2v1h-2zM210 222h4v1h-4zM221 222h1v1h-1zM223 222h1v1h-1zM161 223h1v1h-1zM166 223h1v1h-1zM168 223h2v1h-2zM171 223h8v1h-8zM180 223h1v1h-1zM182 223h1v1h-1zM184 223h4v1h-4zM189 223h4v1h-4zM195 223h2v1h-2zM201 223h2v1h-2zM205 223h1v1h-1zM208 223h4v1h-4zM215 223h1v1h-1zM218 223h2v1h-2zM221 223h2v1h-2zM226 223h1v1h-1zM228 223h1v1h-1zM231 223h1v1h-1zM233 223h1v1h-1zM245 223h1v1h-1zM167 224h1v1h-1zM175 224h2v1h-2zM179 224h1v1h-1zM181 224h2v1h-2zM184 224h4v1h-4zM190 224h2v1h-2zM193 224h3v1h-3zM197 224h1v1h-1zM199 224h1v1h-1zM204 224h2v1h-2zM208 224h4v1h-4zM214 224h1v1h-1zM216 224h1v1h-1zM221 224h1v1h-1zM223 224h3v1h-3zM230 224h2v1h-2zM165 225h1v1h-1zM168 225h4v1h-4zM173 225h1v1h-1zM175 225h1v1h-1zM177 225h1v1h-1zM180 225h2v1h-2zM184 225h3v1h-3zM188 225h2v1h-2zM193 225h1v1h-1zM195 225h1v1h-1zM197 225h1v1h-1zM201 225h5v1h-5zM208 225h2v1h-2zM213 225h2v1h-2zM217 225h3v1h-3zM224 225h1v1h-1zM226 225h1v1h-1zM230 225h1v1h-1zM235 225h1v1h-1zM160 226h1v1h-1zM162 226h1v1h-1zM166 226h3v1h-3zM173 226h3v1h-3zM178 226h3v1h-3zM183 226h5v1h-5zM189 226h4v1h-4zM194 226h7v1h-7zM203 226h5v1h-5zM214 226h5v1h-5zM221 226h1v1h-1zM224 226h1v1h-1zM233 226h1v1h-1zM237 226h2v1h-2zM159 227h1v1h-1zM162 227h1v1h-1zM164 227h3v1h-3zM169 227h1v1h-1zM171 227h2v1h-2zM178 227h1v1h-1zM180 227h1v1h-1zM182 227h4v1h-4zM187 227h2v1h-2zM190 227h1v1h-1zM192 227h5v1h-5zM199 227h4v1h-4zM204 227h1v1h-1zM207 227h1v1h-1zM213 227h5v1h-5zM220 227h1v1h-1zM231 227h1v1h-1zM156 228h1v1h-1zM160 228h2v1h-2zM163 228h2v1h-2zM166 228h1v1h-1zM168 228h1v1h-1zM170 228h2v1h-2zM173 228h1v1h-1zM176 228h3v1h-3zM182 228h1v1h-1zM184 228h2v1h-2zM187 228h2v1h-2zM190 228h1v1h-1zM192 228h1v1h-1zM195 228h3v1h-3zM199 228h3v1h-3zM203 228h1v1h-1zM205 228h1v1h-1zM207 228h1v1h-1zM211 228h2v1h-2zM214 228h1v1h-1zM220 228h1v1h-1zM224 228h3v1h-3zM240 228h1v1h-1zM162 229h2v1h-2zM165 229h1v1h-1zM168 229h3v1h-3zM172 229h1v1h-1zM174 229h1v1h-1zM176 229h1v1h-1zM178 229h1v1h-1zM180 229h1v1h-1zM182 229h1v1h-1zM185 229h1v1h-1zM187 229h1v1h-1zM191 229h1v1h-1zM193 229h1v1h-1zM195 229h9v1h-9zM205 229h2v1h-2zM208 229h1v1h-1zM210 229h4v1h-4zM216 229h1v1h-1zM223 229h1v1h-1zM226 229h1v1h-1zM162 230h1v1h-1zM164 230h1v1h-1zM166 230h5v1h-5zM172 230h3v1h-3zM177 230h2v1h-2zM180 230h11v1h-11zM194 230h1v1h-1zM196 230h1v1h-1zM198 230h1v1h-1zM200 230h2v1h-2zM203 230h1v1h-1zM206 230h1v1h-1zM208 230h2v1h-2zM219 230h3v1h-3zM223 230h1v1h-1zM238 230h1v1h-1zM160 231h1v1h-1zM162 231h2v1h-2zM165 231h3v1h-3zM169 231h3v1h-3zM176 231h1v1h-1zM179 231h1v1h-1zM181 231h1v1h-1zM183 231h6v1h-6zM191 231h1v1h-1zM194 231h2v1h-2zM199 231h2v1h-2zM202 231h3v1h-3zM206 231h3v1h-3zM210 231h1v1h-1zM218 231h1v1h-1zM161 232h8v1h-8zM170 232h6v1h-6zM177 232h1v1h-1zM180 232h1v1h-1zM182 232h4v1h-4zM188 232h1v1h-1zM191 232h3v1h-3zM196 232h2v1h-2zM199 232h1v1h-1zM201 232h1v1h-1zM204 232h1v1h-1zM207 232h1v1h-1zM210 232h3v1h-3zM214 232h1v1h-1zM217 232h2v1h-2zM220 232h1v1h-1zM159 233h3v1h-3zM163 233h11v1h-11zM175 233h1v1h-1zM177 233h2v1h-2zM180 233h1v1h-1zM183 233h1v1h-1zM186 233h2v1h-2zM189 233h1v1h-1zM193 233h1v1h-1zM195 233h3v1h-3zM201 233h2v1h-2zM204 233h1v1h-1zM206 233h1v1h-1zM213 233h1v1h-1zM218 233h1v1h-1zM226 233h1v1h-1zM157 234h2v1h-2zM160 234h13v1h-13zM176 234h1v1h-1zM180 234h4v1h-4zM186 234h2v1h-2zM190 234h1v1h-1zM194 234h4v1h-4zM199 234h2v1h-2zM208 234h1v1h-1zM211 234h1v1h-1zM213 234h1v1h-1zM155 235h1v1h-1zM159 235h1v1h-1zM161 235h3v1h-3zM165 235h3v1h-3zM169 235h4v1h-4zM174 235h3v1h-3zM178 235h2v1h-2zM182 235h5v1h-5zM188 235h1v1h-1zM190 235h1v1h-1zM196 235h3v1h-3zM201 235h2v1h-2zM204 235h2v1h-2zM208 235h1v1h-1zM214 235h1v1h-1zM216 235h1v1h-1zM157 236h1v1h-1zM160 236h1v1h-1zM162 236h10v1h-10zM173 236h4v1h-4zM180 236h1v1h-1zM186 236h1v1h-1zM192 236h1v1h-1zM194 236h2v1h-2zM197 236h4v1h-4zM203 236h1v1h-1zM213 236h1v1h-1zM219 236h1v1h-1zM222 236h1v1h-1zM226 236h2v1h-2zM157 237h1v1h-1zM160 237h15v1h-15zM176 237h1v1h-1zM181 237h1v1h-1zM186 237h1v1h-1zM198 237h3v1h-3zM202 237h1v1h-1zM212 237h1v1h-1zM220 237h1v1h-1zM155 238h1v1h-1zM157 238h4v1h-4zM162 238h8v1h-8zM171 238h2v1h-2zM174 238h1v1h-1zM183 238h1v1h-1zM185 238h1v1h-1zM187 238h1v1h-1zM190 238h1v1h-1zM193 238h3v1h-3zM201 238h1v1h-1zM203 238h1v1h-1zM207 238h2v1h-2zM214 238h1v1h-1zM155 239h1v1h-1zM158 239h1v1h-1zM160 239h11v1h-11zM172 239h1v1h-1zM181 239h1v1h-1zM183 239h1v1h-1zM186 239h1v1h-1zM193 239h3v1h-3zM197 239h2v1h-2zM200 239h1v1h-1zM205 239h2v1h-2zM208 239h1v1h-1zM213 239h1v1h-1zM218 239h1v1h-1zM155 240h1v1h-1zM159 240h2v1h-2zM162 240h13v1h-13zM179 240h1v1h-1zM184 240h1v1h-1zM186 240h1v1h-1zM189 240h1v1h-1zM193 240h1v1h-1zM203 240h1v1h-1zM210 240h1v1h-1zM157 241h5v1h-5zM163 241h11v1h-11zM175 241h1v1h-1zM182 241h3v1h-3zM187 241h2v1h-2zM212 241h1v1h-1zM155 242h1v1h-1zM157 242h19v1h-19zM177 242h2v1h-2zM180 242h2v1h-2zM185 242h2v1h-2zM189 242h1v1h-1zM191 242h1v1h-1zM198 242h1v1h-1zM201 242h1v1h-1zM210 242h1v1h-1zM155 243h1v1h-1zM157 243h1v1h-1zM160 243h14v1h-14zM175 243h2v1h-2zM181 243h1v1h-1zM195 243h1v1h-1zM227 243h1v1h-1zM157 244h1v1h-1zM159 244h15v1h-15zM178 244h1v1h-1zM180 244h2v1h-2zM219 244h1v1h-1zM155 245h1v1h-1zM157 245h20v1h-20zM179 245h1v1h-1zM182 245h3v1h-3zM186 245h1v1h-1zM194 245h1v1h-1zM156 246h1v1h-1zM158 246h12v1h-12zM171 246h4v1h-4zM176 246h3v1h-3zM181 246h1v1h-1zM189 246h1v1h-1zM157 247h4v1h-4zM162 247h9v1h-9zM172 247h3v1h-3zM176 247h1v1h-1zM194 247h1v1h-1zM196 247h1v1h-1zM156 248h6v1h-6zM163 248h9v1h-9zM173 248h2v1h-2zM180 248h1v1h-1zM183 248h1v1h-1zM159 249h13v1h-13zM173 249h1v1h-1zM192 249h1v1h-1zM155 250h1v1h-1zM157 250h12v1h-12zM170 250h3v1h-3zM174 250h1v1h-1zM176 250h2v1h-2zM189 250h1v1h-1zM155 251h1v1h-1zM157 251h6v1h-6zM164 251h6v1h-6zM171 251h2v1h-2zM184 251h1v1h-1zM155 252h2v1h-2zM158 252h13v1h-13zM172 252h1v1h-1zM175 252h1v1h-1zM217 252h1v1h-1zM157 253h13v1h-13zM172 253h3v1h-3zM204 253h2v1h-2zM214 253h1v1h-1zM157 254h2v1h-2zM160 254h9v1h-9zM170 254h1v1h-1zM172 254h2v1h-2zM221 254h1v1h-1zM157 255h3v1h-3zM161 255h1v1h-1zM163 255h5v1h-5zM171 255h1v1h-1zM174 255h1v1h-1zM181 255h2v1h-2zM185 255h1v1h-1zM209 255h1v1h-1zM211 255h1v1h-1zM155 256h1v1h-1zM158 256h1v1h-1zM161 256h2v1h-2zM165 256h1v1h-1zM167 256h1v1h-1zM175 256h1v1h-1zM199 256h1v1h-1zM157 257h2v1h-2zM160 257h9v1h-9zM170 257h1v1h-1zM210 257h1v1h-1zM156 258h1v1h-1zM158 258h3v1h-3zM162 258h5v1h-5zM168 258h2v1h-2zM197 258h1v1h-1zM205 258h1v1h-1zM155 259h1v1h-1zM157 259h1v1h-1zM159 259h1v1h-1zM161 259h5v1h-5zM169 259h1v1h-1zM173 259h2v1h-2zM157 260h1v1h-1zM159 260h1v1h-1zM161 260h4v1h-4zM166 260h1v1h-1zM156 261h1v1h-1zM159 261h1v1h-1zM161 261h2v1h-2zM164 261h3v1h-3zM175 261h1v1h-1zM234 261h1v1h-1zM155 262h7v1h-7zM164 262h3v1h-3zM169 262h2v1h-2zM193 262h1v1h-1zM157 263h2v1h-2zM160 263h2v1h-2zM163 263h1v1h-1zM165 263h1v1h-1zM192 263h1v1h-1zM157 264h2v1h-2zM161 264h3v1h-3zM165 264h1v1h-1zM167 264h1v1h-1zM157 265h2v1h-2zM161 265h1v1h-1zM164 265h1v1h-1zM168 265h2v1h-2zM155 266h1v1h-1zM157 266h1v1h-1zM161 266h5v1h-5zM213 266h1v1h-1zM156 267h2v1h-2zM159 267h1v1h-1zM162 267h3v1h-3zM169 267h1v1h-1zM175 267h1v1h-1zM157 268h1v1h-1zM166 268h1v1h-1zM185 268h1v1h-1zM235 268h1v1h-1zM160 269h2v1h-2zM163 269h1v1h-1zM166 269h1v1h-1zM168 269h2v1h-2zM184 269h1v1h-1zM156 270h2v1h-2zM162 270h1v1h-1zM165 270h1v1h-1zM157 271h1v1h-1zM159 271h2v1h-2zM166 271h1v1h-1zM158 272h1v1h-1zM163 272h2v1h-2zM160 273h1v1h-1zM163 273h1v1h-1zM155 274h2v1h-2zM161 274h1v1h-1zM170 274h1v1h-1zM210 274h1v1h-1zM162 275h2v1h-2zM168 275h1v1h-1zM171 275h1v1h-1zM171 276h1v1h-1zM201 277h1v1h-1zM156 278h1v1h-1z"/></g>
<path d="M154.4 181.1H256.3V281.6" stroke="#a0a0a0" stroke-width="1.4" fill="none"/>
<path d="M154.4 180.4V281.6H257.0" stroke="#1a1a1a" stroke-width="1.45" fill="none"/>
<path d="M164.6 282.1v1.6M153.9 271.5h-1.6M170.6 282.1v1.6M153.9 265.6h-1.6M174.8 282.1v1.6M153.9 261.4h-1.6M178.1 282.1v1.6M153.9 258.2h-1.6M180.8 282.1v1.6M153.9 255.5h-1.6M183.1 282.1v1.6M153.9 253.3h-1.6M185.1 282.1v1.6M153.9 251.3h-1.6M186.8 282.1v1.6M153.9 249.6h-1.6M188.4 282.1v2.2M153.9 248.1h-2.2M198.6 282.1v1.6M153.9 238.0h-1.6M204.6 282.1v1.6M153.9 232.1h-1.6M208.8 282.1v1.6M153.9 227.9h-1.6M212.1 282.1v1.6M153.9 224.7h-1.6M214.8 282.1v1.6M153.9 222.0h-1.6M217.1 282.1v1.6M153.9 219.8h-1.6M219.0 282.1v1.6M153.9 217.8h-1.6M220.8 282.1v1.6M153.9 216.1h-1.6M222.3 282.1v2.2M153.9 214.6h-2.2M232.6 282.1v1.6M153.9 204.5h-1.6M238.5 282.1v1.6M153.9 198.6h-1.6M242.8 282.1v1.6M153.9 194.4h-1.6M246.1 282.1v1.6M153.9 191.2h-1.6M248.8 282.1v1.6M153.9 188.5h-1.6M251.0 282.1v1.6M153.9 186.3h-1.6M253.0 282.1v1.6M153.9 184.3h-1.6M254.7 282.1v1.6M153.9 182.6h-1.6" stroke="#555" stroke-width="0.5" fill="none"/>
<text x="143.1" y="186.4" class="tk">10<tspan dy="-2.6" font-size="3.6">3</tspan></text>
<text x="143.1" y="219.9" class="tk">10<tspan dy="-2.6" font-size="3.6">2</tspan></text>
<text x="143.1" y="253.40000000000003" class="tk">10<tspan dy="-2.6" font-size="3.6">1</tspan></text>
<text x="143.1" y="286.90000000000003" class="tk">10<tspan dy="-2.6" font-size="3.6">0</tspan></text>
<text x="149.9" y="293.40000000000003" class="tk">10<tspan dy="-2.6" font-size="3.6">0</tspan></text>
<text x="183.86666666666667" y="293.40000000000003" class="tk">10<tspan dy="-2.6" font-size="3.6">1</tspan></text>
<text x="217.83333333333334" y="293.40000000000003" class="tk">10<tspan dy="-2.6" font-size="3.6">2</tspan></text>
<text x="251.8" y="293.40000000000003" class="tk">10<tspan dy="-2.6" font-size="3.6">3</tspan></text>
<path d="M313.0 181.6V280.2M279.2 243.5H380.6" stroke="#777" stroke-width="1" fill="none"/>
<g filter="url(#bl)"><path fill="#000" d="M301 241h1v1h-1zM305 241h1v1h-1zM291 242h2v1h-2zM291 243h1v1h-1zM293 243h1v1h-1zM296 245h1v1h-1zM295 246h1v1h-1zM298 246h1v1h-1zM291 247h1v1h-1zM294 247h1v1h-1zM298 247h1v1h-1zM291 248h1v1h-1zM299 248h1v1h-1zM292 249h1v1h-1zM295 249h1v1h-1zM291 250h1v1h-1zM294 250h2v1h-2zM297 251h2v1h-2zM289 252h1v1h-1zM292 252h1v1h-1zM294 253h1v1h-1zM296 253h1v1h-1zM288 254h1v1h-1zM291 254h5v1h-5zM300 254h1v1h-1zM305 254h1v1h-1zM291 255h2v1h-2zM297 255h2v1h-2zM294 256h2v1h-2zM297 256h1v1h-1zM281 257h1v1h-1zM285 257h1v1h-1zM288 257h1v1h-1zM290 257h2v1h-2zM298 257h1v1h-1zM300 257h1v1h-1zM302 257h1v1h-1zM289 258h1v1h-1zM291 258h1v1h-1zM293 258h2v1h-2zM299 258h1v1h-1zM301 258h1v1h-1zM287 259h1v1h-1zM289 259h1v1h-1zM292 259h3v1h-3zM296 259h2v1h-2zM288 260h1v1h-1zM292 260h2v1h-2zM299 260h1v1h-1zM284 261h1v1h-1zM287 261h2v1h-2zM292 261h2v1h-2zM295 261h1v1h-1zM297 261h1v1h-1zM283 262h1v1h-1zM289 262h2v1h-2zM292 262h1v1h-1zM296 262h4v1h-4zM289 263h1v1h-1zM291 263h2v1h-2zM294 263h1v1h-1zM297 263h1v1h-1zM287 264h1v1h-1zM289 264h2v1h-2zM292 264h5v1h-5zM300 264h1v1h-1zM285 265h2v1h-2zM289 265h1v1h-1zM291 265h1v1h-1zM295 265h2v1h-2zM298 265h1v1h-1zM288 266h1v1h-1zM291 266h1v1h-1zM293 266h4v1h-4zM303 266h1v1h-1zM291 267h4v1h-4zM296 267h1v1h-1zM298 267h1v1h-1zM286 268h1v1h-1zM288 268h1v1h-1zM290 268h1v1h-1zM292 268h2v1h-2zM296 268h2v1h-2zM288 269h1v1h-1zM290 269h1v1h-1zM294 269h2v1h-2zM297 269h1v1h-1zM299 269h1v1h-1zM303 269h1v1h-1zM280 270h1v1h-1zM283 270h1v1h-1zM287 270h2v1h-2zM291 270h8v1h-8zM300 270h2v1h-2zM283 271h8v1h-8zM293 271h4v1h-4zM298 271h2v1h-2zM304 271h1v1h-1zM284 272h1v1h-1zM286 272h1v1h-1zM288 272h8v1h-8zM297 272h3v1h-3zM305 272h1v1h-1zM282 273h2v1h-2zM285 273h18v1h-18zM282 274h1v1h-1zM284 274h1v1h-1zM286 274h3v1h-3zM290 274h11v1h-11zM305 274h2v1h-2zM283 275h2v1h-2zM286 275h6v1h-6zM293 275h7v1h-7zM301 275h1v1h-1zM304 275h1v1h-1zM281 276h15v1h-15zM297 276h4v1h-4zM303 276h1v1h-1zM306 276h1v1h-1zM282 277h19v1h-19zM307 277h1v1h-1zM280 278h3v1h-3zM284 278h18v1h-18zM306 278h2v1h-2zM311 278h1v1h-1zM280 279h3v1h-3zM285 279h19v1h-19zM305 279h1v1h-1zM309 279h1v1h-1z"/></g>
<path d="M279.2 181.6H380.6V280.2" stroke="#a0a0a0" stroke-width="1.4" fill="none"/>
<path d="M279.2 180.9V280.2H381.3" stroke="#1a1a1a" stroke-width="1.45" fill="none"/>
<path d="M289.4 280.7v1.6M278.7 270.3h-1.6M295.3 280.7v1.6M278.7 264.5h-1.6M299.5 280.7v1.6M278.7 260.4h-1.6M302.8 280.7v1.6M278.7 257.2h-1.6M305.5 280.7v1.6M278.7 254.6h-1.6M307.8 280.7v1.6M278.7 252.4h-1.6M309.7 280.7v1.6M278.7 250.5h-1.6M311.5 280.7v1.6M278.7 248.8h-1.6M313.0 280.7v2.2M278.7 247.3h-2.2M323.2 280.7v1.6M278.7 237.4h-1.6M329.1 280.7v1.6M278.7 231.7h-1.6M333.3 280.7v1.6M278.7 227.5h-1.6M336.6 280.7v1.6M278.7 224.4h-1.6M339.3 280.7v1.6M278.7 221.8h-1.6M341.6 280.7v1.6M278.7 219.6h-1.6M343.5 280.7v1.6M278.7 217.7h-1.6M345.3 280.7v1.6M278.7 216.0h-1.6M346.8 280.7v2.2M278.7 214.5h-2.2M357.0 280.7v1.6M278.7 204.6h-1.6M362.9 280.7v1.6M278.7 198.8h-1.6M367.1 280.7v1.6M278.7 194.7h-1.6M370.4 280.7v1.6M278.7 191.5h-1.6M373.1 280.7v1.6M278.7 188.9h-1.6M375.4 280.7v1.6M278.7 186.7h-1.6M377.3 280.7v1.6M278.7 184.8h-1.6M379.1 280.7v1.6M278.7 183.1h-1.6" stroke="#555" stroke-width="0.5" fill="none"/>
<text x="267.9" y="186.9" class="tk">10<tspan dy="-2.6" font-size="3.6">3</tspan></text>
<text x="267.9" y="219.76666666666668" class="tk">10<tspan dy="-2.6" font-size="3.6">2</tspan></text>
<text x="267.9" y="252.63333333333333" class="tk">10<tspan dy="-2.6" font-size="3.6">1</tspan></text>
<text x="267.9" y="285.5" class="tk">10<tspan dy="-2.6" font-size="3.6">0</tspan></text>
<text x="274.7" y="292.0" class="tk">10<tspan dy="-2.6" font-size="3.6">0</tspan></text>
<text x="308.5" y="292.0" class="tk">10<tspan dy="-2.6" font-size="3.6">1</tspan></text>
<text x="342.3" y="292.0" class="tk">10<tspan dy="-2.6" font-size="3.6">2</tspan></text>
<text x="376.1" y="292.0" class="tk">10<tspan dy="-2.6" font-size="3.6">3</tspan></text>
<path d="M438.3 181.6V280.2M404.3 243.5H505.6" stroke="#777" stroke-width="1" fill="none"/>
<g filter="url(#bl)"><path fill="#000" d="M431 237h1v1h-1zM406 241h1v1h-1zM423 243h1v1h-1zM424 244h1v1h-1zM427 244h1v1h-1zM417 245h1v1h-1zM414 246h2v1h-2zM417 246h1v1h-1zM414 248h1v1h-1zM419 248h3v1h-3zM415 249h1v1h-1zM414 250h2v1h-2zM417 250h1v1h-1zM421 250h1v1h-1zM423 250h1v1h-1zM405 251h1v1h-1zM415 251h1v1h-1zM418 251h1v1h-1zM420 251h1v1h-1zM411 252h1v1h-1zM414 252h1v1h-1zM423 252h1v1h-1zM418 253h1v1h-1zM410 254h2v1h-2zM419 254h2v1h-2zM424 254h1v1h-1zM416 255h2v1h-2zM406 256h1v1h-1zM413 256h1v1h-1zM420 256h1v1h-1zM422 256h1v1h-1zM413 257h1v1h-1zM416 257h3v1h-3zM427 257h1v1h-1zM416 258h2v1h-2zM419 258h1v1h-1zM423 258h1v1h-1zM410 259h2v1h-2zM414 259h1v1h-1zM416 259h1v1h-1zM420 259h1v1h-1zM422 259h1v1h-1zM424 259h1v1h-1zM413 260h1v1h-1zM419 260h4v1h-4zM412 261h1v1h-1zM415 261h1v1h-1zM417 261h4v1h-4zM422 261h1v1h-1zM425 261h1v1h-1zM430 261h1v1h-1zM414 262h1v1h-1zM417 262h1v1h-1zM419 262h3v1h-3zM430 262h1v1h-1zM415 263h2v1h-2zM420 263h1v1h-1zM422 263h1v1h-1zM425 263h2v1h-2zM415 264h2v1h-2zM419 264h2v1h-2zM425 264h1v1h-1zM412 265h4v1h-4zM417 265h1v1h-1zM419 265h3v1h-3zM423 265h1v1h-1zM410 266h2v1h-2zM413 266h1v1h-1zM417 266h5v1h-5zM423 266h4v1h-4zM412 267h1v1h-1zM414 267h3v1h-3zM418 267h6v1h-6zM428 267h1v1h-1zM410 268h1v1h-1zM413 268h1v1h-1zM417 268h1v1h-1zM419 268h2v1h-2zM422 268h2v1h-2zM410 269h1v1h-1zM412 269h2v1h-2zM415 269h1v1h-1zM417 269h3v1h-3zM424 269h1v1h-1zM405 270h1v1h-1zM407 270h5v1h-5zM415 270h4v1h-4zM420 270h2v1h-2zM406 271h1v1h-1zM408 271h1v1h-1zM410 271h2v1h-2zM414 271h8v1h-8zM423 271h1v1h-1zM425 271h2v1h-2zM407 272h3v1h-3zM411 272h1v1h-1zM413 272h14v1h-14zM405 273h1v1h-1zM407 273h1v1h-1zM409 273h1v1h-1zM411 273h3v1h-3zM415 273h11v1h-11zM429 273h1v1h-1zM406 274h1v1h-1zM408 274h5v1h-5zM414 274h4v1h-4zM419 274h5v1h-5zM425 274h4v1h-4zM405 275h1v1h-1zM407 275h20v1h-20zM428 275h2v1h-2zM432 275h2v1h-2zM407 276h23v1h-23zM432 276h1v1h-1zM405 277h22v1h-22zM428 277h4v1h-4zM434 277h1v1h-1zM406 278h22v1h-22zM429 278h2v1h-2zM432 278h1v1h-1zM435 278h1v1h-1zM405 279h28v1h-28zM434 279h1v1h-1z"/></g>
<path d="M404.3 181.6H505.6V280.2" stroke="#a0a0a0" stroke-width="1.4" fill="none"/>
<path d="M404.3 180.9V280.2H506.3" stroke="#1a1a1a" stroke-width="1.45" fill="none"/>
<path d="M414.5 280.7v1.6M403.8 270.3h-1.6M420.4 280.7v1.6M403.8 264.5h-1.6M424.6 280.7v1.6M403.8 260.4h-1.6M427.9 280.7v1.6M403.8 257.2h-1.6M430.6 280.7v1.6M403.8 254.6h-1.6M432.8 280.7v1.6M403.8 252.4h-1.6M434.8 280.7v1.6M403.8 250.5h-1.6M436.5 280.7v1.6M403.8 248.8h-1.6M438.1 280.7v2.2M403.8 247.3h-2.2M448.2 280.7v1.6M403.8 237.4h-1.6M454.2 280.7v1.6M403.8 231.7h-1.6M458.4 280.7v1.6M403.8 227.5h-1.6M461.7 280.7v1.6M403.8 224.4h-1.6M464.3 280.7v1.6M403.8 221.8h-1.6M466.6 280.7v1.6M403.8 219.6h-1.6M468.6 280.7v1.6M403.8 217.7h-1.6M470.3 280.7v1.6M403.8 216.0h-1.6M471.8 280.7v2.2M403.8 214.5h-2.2M482.0 280.7v1.6M403.8 204.6h-1.6M487.9 280.7v1.6M403.8 198.8h-1.6M492.2 280.7v1.6M403.8 194.7h-1.6M495.4 280.7v1.6M403.8 191.5h-1.6M498.1 280.7v1.6M403.8 188.9h-1.6M500.4 280.7v1.6M403.8 186.7h-1.6M502.3 280.7v1.6M403.8 184.8h-1.6M504.1 280.7v1.6M403.8 183.1h-1.6" stroke="#555" stroke-width="0.5" fill="none"/>
<text x="393.0" y="186.9" class="tk">10<tspan dy="-2.6" font-size="3.6">3</tspan></text>
<text x="393.0" y="219.76666666666668" class="tk">10<tspan dy="-2.6" font-size="3.6">2</tspan></text>
<text x="393.0" y="252.63333333333333" class="tk">10<tspan dy="-2.6" font-size="3.6">1</tspan></text>
<text x="393.0" y="285.5" class="tk">10<tspan dy="-2.6" font-size="3.6">0</tspan></text>
<text x="399.8" y="292.0" class="tk">10<tspan dy="-2.6" font-size="3.6">0</tspan></text>
<text x="433.56666666666666" y="292.0" class="tk">10<tspan dy="-2.6" font-size="3.6">1</tspan></text>
<text x="467.33333333333337" y="292.0" class="tk">10<tspan dy="-2.6" font-size="3.6">2</tspan></text>
<text x="501.1" y="292.0" class="tk">10<tspan dy="-2.6" font-size="3.6">3</tspan></text>
<text x="19.8" y="12.6" font-size="17" font-weight="bold" text-anchor="start" >A</text><text x="18.3" y="172.6" font-size="17" font-weight="bold" text-anchor="start" >B</text><text x="87.5" y="9.5" font-size="12" font-weight="normal" text-anchor="middle" >YSE + CD19</text><text x="87.5" y="24.0" font-size="12" font-weight="normal" text-anchor="middle" >stimulation</text><text x="209" y="9.8" font-size="12" font-weight="normal" text-anchor="middle" >YSE stimulation</text><text x="209" y="24.5" font-size="12" font-weight="normal" text-anchor="middle" >only</text><text x="329.5" y="9.5" font-size="12" font-weight="normal" text-anchor="middle" >CD19 stimulation</text><text x="329.5" y="24.1" font-size="12" font-weight="normal" text-anchor="middle" >only</text><text x="455.3" y="9.6" font-size="12" font-weight="normal" text-anchor="middle" >No Stimulation</text><text x="44.1" y="32.5" font-size="13.5" font-weight="bold" text-anchor="start" class="nb" letter-spacing="0.25">i</text><text x="162.9" y="32.8" font-size="13.5" font-weight="bold" text-anchor="start" class="nb" letter-spacing="0.25">ii</text><text x="284.0" y="32.3" font-size="13.5" font-weight="bold" text-anchor="start" class="nb" letter-spacing="0.25">iii</text><text x="408.1" y="32.3" font-size="13.5" font-weight="bold" text-anchor="start" class="nb" letter-spacing="0.25">iv</text><text x="46.0" y="178.3" font-size="13.5" font-weight="bold" text-anchor="start" class="nb" letter-spacing="0.25">i</text><text x="163.9" y="179" font-size="13.5" font-weight="bold" text-anchor="start" class="nb" letter-spacing="0.25">ii</text><text x="285.1" y="178.2" font-size="13.5" font-weight="bold" text-anchor="start" class="nb" letter-spacing="0.25">iii</text><text x="406.7" y="178.7" font-size="13.5" font-weight="bold" text-anchor="start" class="nb" letter-spacing="0.25">iv</text><text x="64.9" y="48.7" font-size="10" font-weight="normal" text-anchor="end" >18.3%</text><text x="189.0" y="48.7" font-size="10" font-weight="normal" text-anchor="end" >39.4%</text><text x="312.1" y="48.3" font-size="10" font-weight="normal" text-anchor="end" >0.5%</text><text x="435.2" y="48.3" font-size="10" font-weight="normal" text-anchor="end" >0.7%</text><text x="66.8" y="192.8" font-size="10" font-weight="normal" text-anchor="end" >41.8%</text><text x="189.8" y="192.8" font-size="10" font-weight="normal" text-anchor="end" >41.3%</text><text x="313.3" y="193.5" font-size="10" font-weight="normal" text-anchor="end" >0.1%</text><text x="435.7" y="193.5" font-size="10" font-weight="normal" text-anchor="end" >0.0%</text><text x="124.8" y="50.4" font-size="11.5" font-weight="bold" text-anchor="end" >50%</text><text x="252.9" y="50.5" font-size="11.5" font-weight="bold" text-anchor="end" >28%</text><text x="374.0" y="49.8" font-size="11.5" font-weight="bold" text-anchor="end" >1.0%</text><text x="496.3" y="49.8" font-size="11.5" font-weight="bold" text-anchor="end" >0.2%</text><text x="124.4" y="194.6" font-size="11.5" font-weight="bold" text-anchor="end" >22%</text><text x="249.4" y="194.6" font-size="11.5" font-weight="bold" text-anchor="end" >22%</text><text x="373.9" y="194.5" font-size="11.5" font-weight="bold" text-anchor="end" >0.0%</text><text x="496.8" y="195.2" font-size="11.5" font-weight="bold" text-anchor="end" >0.0%</text><text x="125.9" y="129.7" font-size="10" font-weight="normal" text-anchor="end" >13.9%</text><text x="249.8" y="128.7" font-size="10" font-weight="normal" text-anchor="end" >4.3%</text><text x="382.2" y="118.6" font-size="10" font-weight="normal" text-anchor="end" >44.8%</text><text x="495.9" y="128.5" font-size="10" font-weight="normal" text-anchor="end" >3.5%</text><text x="123.7" y="273.5" font-size="10" font-weight="normal" text-anchor="end" >3.8%</text><text x="249.0" y="273.5" font-size="10" font-weight="normal" text-anchor="end" >3.7%</text><text x="373.5" y="273.8" font-size="10" font-weight="normal" text-anchor="end" >0.0%</text><text x="496.3" y="273.4" font-size="10" font-weight="normal" text-anchor="end" >0.0%</text><text x="0" y="0" font-size="12" font-weight="normal" text-anchor="start" transform="translate(510.2,66.3) rotate(90)">TD CTL</text><text x="0" y="0" font-size="12" font-weight="normal" text-anchor="start" transform="translate(510.6,210.3) rotate(90)">NT CTL</text><text x="0" y="0" font-size="14" font-weight="bold" text-anchor="start" transform="translate(11.1,258.7) rotate(-90)">IFN<tspan font-weight="normal" font-family="Liberation Serif" stroke="none">&#947;</tspan> PE- Response to CMV- YSE</text><text x="0" y="0" font-size="14" font-weight="bold" text-anchor="start" transform="translate(30,312) scale(0.982,1)">IFN<tspan font-weight="normal" font-family="Liberation Serif" stroke="none">&#947;</tspan> FITC- Response to CD19</text>
<path d="M234 306.4H490" stroke="#111" stroke-width="1.9"/><path d="M488.6 303.4L494.4 306.4L488.6 309.4L489.6 306.4Z" fill="#111"/>
</svg>
</body></html>
